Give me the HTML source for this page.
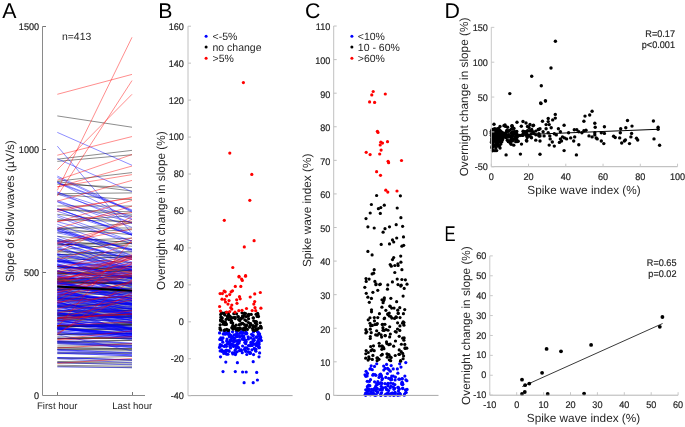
<!DOCTYPE html>
<html><head><meta charset="utf-8"><style>
html,body{margin:0;padding:0;background:#fff;width:685px;height:427px;overflow:hidden}
svg{display:block;font-family:"Liberation Sans", sans-serif;will-change:transform;text-rendering:geometricPrecision}
</style></head><body>
<svg width="685" height="427" viewBox="0 0 685 427">
<rect width="685" height="427" fill="#fff"/>
<g stroke-width="0.45" fill="none"><line x1="57.3" y1="245.29" x2="132" y2="240.72" stroke="#000000"/><line x1="57.3" y1="317.38" x2="132" y2="313.9" stroke="#000000"/><line x1="57.3" y1="349.16" x2="132" y2="349.56" stroke="#000000"/><line x1="57.3" y1="325.71" x2="132" y2="324.28" stroke="#000000"/><line x1="57.3" y1="319.25" x2="132" y2="316.4" stroke="#000000"/><line x1="57.3" y1="282.18" x2="132" y2="282.97" stroke="#000000"/><line x1="57.3" y1="305.84" x2="132" y2="303.25" stroke="#000000"/><line x1="57.3" y1="281.54" x2="132" y2="278.74" stroke="#000000"/><line x1="57.3" y1="250.78" x2="132" y2="256.79" stroke="#000000"/><line x1="57.3" y1="306.2" x2="132" y2="308.06" stroke="#000000"/><line x1="57.3" y1="341.78" x2="132" y2="340.14" stroke="#000000"/><line x1="57.3" y1="159.21" x2="132" y2="150.37" stroke="#000000"/><line x1="57.3" y1="320.4" x2="132" y2="316.94" stroke="#000000"/><line x1="57.3" y1="338.36" x2="132" y2="338.38" stroke="#000000"/><line x1="57.3" y1="310.21" x2="132" y2="311.46" stroke="#000000"/><line x1="57.3" y1="328.86" x2="132" y2="329.42" stroke="#000000"/><line x1="57.3" y1="352.4" x2="132" y2="352.17" stroke="#000000"/><line x1="57.3" y1="318.34" x2="132" y2="321.49" stroke="#000000"/><line x1="57.3" y1="209.55" x2="132" y2="214.28" stroke="#000000"/><line x1="57.3" y1="292.19" x2="132" y2="292.54" stroke="#000000"/><line x1="57.3" y1="241.2" x2="132" y2="238.12" stroke="#000000"/><line x1="57.3" y1="333.45" x2="132" y2="333.15" stroke="#000000"/><line x1="57.3" y1="205.99" x2="132" y2="206.06" stroke="#000000"/><line x1="57.3" y1="296.11" x2="132" y2="298.16" stroke="#000000"/><line x1="57.3" y1="313.74" x2="132" y2="314.26" stroke="#000000"/><line x1="57.3" y1="315.02" x2="132" y2="315.78" stroke="#000000"/><line x1="57.3" y1="236.31" x2="132" y2="242.88" stroke="#000000"/><line x1="57.3" y1="289.77" x2="132" y2="288.66" stroke="#000000"/><line x1="57.3" y1="334.57" x2="132" y2="333.24" stroke="#000000"/><line x1="57.3" y1="209.44" x2="132" y2="211.87" stroke="#000000"/><line x1="57.3" y1="343.68" x2="132" y2="345.01" stroke="#000000"/><line x1="57.3" y1="325.94" x2="132" y2="327.0" stroke="#000000"/><line x1="57.3" y1="315.4" x2="132" y2="313.5" stroke="#000000"/><line x1="57.3" y1="280.39" x2="132" y2="284.54" stroke="#000000"/><line x1="57.3" y1="327.59" x2="132" y2="324.39" stroke="#000000"/><line x1="57.3" y1="363.02" x2="132" y2="364.27" stroke="#000000"/><line x1="57.3" y1="161.37" x2="132" y2="154.74" stroke="#000000"/><line x1="57.3" y1="366.38" x2="132" y2="367.68" stroke="#000000"/><line x1="57.3" y1="325.82" x2="132" y2="327.51" stroke="#000000"/><line x1="57.3" y1="281.23" x2="132" y2="285.17" stroke="#000000"/><line x1="57.3" y1="194.56" x2="132" y2="199.68" stroke="#000000"/><line x1="57.3" y1="317.95" x2="132" y2="315.78" stroke="#000000"/><line x1="57.3" y1="314.31" x2="132" y2="310.28" stroke="#000000"/><line x1="57.3" y1="278.59" x2="132" y2="279.91" stroke="#000000"/><line x1="57.3" y1="349.61" x2="132" y2="350.34" stroke="#000000"/><line x1="57.3" y1="268.31" x2="132" y2="266.58" stroke="#000000"/><line x1="57.3" y1="316.08" x2="132" y2="314.72" stroke="#000000"/><line x1="57.3" y1="299.71" x2="132" y2="303.07" stroke="#000000"/><line x1="57.3" y1="307.05" x2="132" y2="310.9" stroke="#000000"/><line x1="57.3" y1="266.47" x2="132" y2="269.58" stroke="#000000"/><line x1="57.3" y1="336.79" x2="132" y2="338.87" stroke="#000000"/><line x1="57.3" y1="279.42" x2="132" y2="275.42" stroke="#000000"/><line x1="57.3" y1="297.81" x2="132" y2="301.33" stroke="#000000"/><line x1="57.3" y1="266.58" x2="132" y2="272.68" stroke="#000000"/><line x1="57.3" y1="243.61" x2="132" y2="249.36" stroke="#000000"/><line x1="57.3" y1="290.58" x2="132" y2="295.24" stroke="#000000"/><line x1="57.3" y1="318.06" x2="132" y2="314.29" stroke="#000000"/><line x1="57.3" y1="358.17" x2="132" y2="359.76" stroke="#000000"/><line x1="57.3" y1="273.33" x2="132" y2="273.82" stroke="#000000"/><line x1="57.3" y1="254.71" x2="132" y2="251.27" stroke="#000000"/><line x1="57.3" y1="272.85" x2="132" y2="270.74" stroke="#000000"/><line x1="57.3" y1="347.98" x2="132" y2="348.68" stroke="#000000"/><line x1="57.3" y1="227.98" x2="132" y2="228.01" stroke="#000000"/><line x1="57.3" y1="273.82" x2="132" y2="270.39" stroke="#000000"/><line x1="57.3" y1="282.97" x2="132" y2="283.54" stroke="#000000"/><line x1="57.3" y1="330.14" x2="132" y2="328.58" stroke="#000000"/><line x1="57.3" y1="294.89" x2="132" y2="290.6" stroke="#000000"/><line x1="57.3" y1="219.55" x2="132" y2="221.81" stroke="#000000"/><line x1="57.3" y1="329.3" x2="132" y2="331.96" stroke="#000000"/><line x1="57.3" y1="288.63" x2="132" y2="288.64" stroke="#000000"/><line x1="57.3" y1="181.69" x2="132" y2="191.06" stroke="#000000"/><line x1="57.3" y1="250.02" x2="132" y2="243.04" stroke="#000000"/><line x1="57.3" y1="272.88" x2="132" y2="276.96" stroke="#000000"/><line x1="57.3" y1="271.99" x2="132" y2="276.03" stroke="#000000"/><line x1="57.3" y1="280.7" x2="132" y2="282.82" stroke="#000000"/><line x1="57.3" y1="327.07" x2="132" y2="325.31" stroke="#000000"/><line x1="57.3" y1="345.99" x2="132" y2="345.72" stroke="#000000"/><line x1="57.3" y1="307.05" x2="132" y2="308.82" stroke="#000000"/><line x1="57.3" y1="325.77" x2="132" y2="322.99" stroke="#000000"/><line x1="57.3" y1="193.73" x2="132" y2="192.9" stroke="#000000"/><line x1="57.3" y1="298.01" x2="132" y2="297.03" stroke="#000000"/><line x1="57.3" y1="304.13" x2="132" y2="307.01" stroke="#000000"/><line x1="57.3" y1="256.84" x2="132" y2="257.56" stroke="#000000"/><line x1="57.3" y1="228.88" x2="132" y2="234.62" stroke="#000000"/><line x1="57.3" y1="181.28" x2="132" y2="172.6" stroke="#000000"/><line x1="57.3" y1="300.58" x2="132" y2="304.79" stroke="#000000"/><line x1="57.3" y1="306.27" x2="132" y2="303.55" stroke="#000000"/><line x1="57.3" y1="266.69" x2="132" y2="271.07" stroke="#000000"/><line x1="57.3" y1="278.69" x2="132" y2="277.41" stroke="#000000"/><line x1="57.3" y1="115.92" x2="132" y2="127.22" stroke="#000000"/><line x1="57.3" y1="312.38" x2="132" y2="310.02" stroke="#000000"/><line x1="57.3" y1="341.55" x2="132" y2="343.84" stroke="#000000"/><line x1="57.3" y1="322.23" x2="132" y2="322.47" stroke="#000000"/><line x1="57.3" y1="184.19" x2="132" y2="187.58" stroke="#000000"/><line x1="57.3" y1="302.41" x2="132" y2="306.18" stroke="#000000"/><line x1="57.3" y1="315.3" x2="132" y2="318.18" stroke="#000000"/><line x1="57.3" y1="326.69" x2="132" y2="325.59" stroke="#000000"/><line x1="57.3" y1="311.12" x2="132" y2="313.15" stroke="#000000"/><line x1="57.3" y1="365.28" x2="132" y2="366.29" stroke="#000000"/><line x1="57.3" y1="329.08" x2="132" y2="329.0" stroke="#000000"/><line x1="57.3" y1="279.55" x2="132" y2="281.2" stroke="#000000"/><line x1="57.3" y1="325.76" x2="132" y2="323.56" stroke="#000000"/><line x1="57.3" y1="261.29" x2="132" y2="267.32" stroke="#000000"/><line x1="57.3" y1="325.64" x2="132" y2="324.81" stroke="#000000"/><line x1="57.3" y1="314.04" x2="132" y2="317.05" stroke="#000000"/><line x1="57.3" y1="321.07" x2="132" y2="319.25" stroke="#000000"/><line x1="57.3" y1="361.51" x2="132" y2="360.78" stroke="#000000"/><line x1="57.3" y1="266.65" x2="132" y2="270.4" stroke="#000000"/><line x1="57.3" y1="274.23" x2="132" y2="276.54" stroke="#000000"/><line x1="57.3" y1="310.87" x2="132" y2="308.63" stroke="#000000"/><line x1="57.3" y1="353.71" x2="132" y2="353.48" stroke="#000000"/><line x1="57.3" y1="299.89" x2="132" y2="295.97" stroke="#000000"/><line x1="57.3" y1="347.47" x2="132" y2="348.73" stroke="#000000"/><line x1="57.3" y1="334.67" x2="132" y2="333.62" stroke="#000000"/><line x1="57.3" y1="214.25" x2="132" y2="222.69" stroke="#000000"/><line x1="57.3" y1="342.71" x2="132" y2="340.4" stroke="#000000"/><line x1="57.3" y1="338.74" x2="132" y2="336.48" stroke="#000000"/><line x1="57.3" y1="244.58" x2="132" y2="243.59" stroke="#000000"/><line x1="57.3" y1="232.86" x2="132" y2="229.75" stroke="#000000"/><line x1="57.3" y1="220.74" x2="132" y2="215.79" stroke="#000000"/><line x1="57.3" y1="289.56" x2="132" y2="291.04" stroke="#000000"/><line x1="57.3" y1="284.0" x2="132" y2="282.77" stroke="#000000"/><line x1="57.3" y1="282.18" x2="132" y2="283.48" stroke="#000000"/><line x1="57.3" y1="298.37" x2="132" y2="301.1" stroke="#000000"/><line x1="57.3" y1="229.26" x2="132" y2="223.17" stroke="#000000"/><line x1="57.3" y1="279.2" x2="132" y2="277.31" stroke="#000000"/><line x1="57.3" y1="285.88" x2="132" y2="290.6" stroke="#000000"/><line x1="57.3" y1="271.51" x2="132" y2="266.55" stroke="#000000"/><line x1="57.3" y1="287.83" x2="132" y2="292.26" stroke="#000000"/><line x1="57.3" y1="254.21" x2="132" y2="256.11" stroke="#000000"/><line x1="57.3" y1="338.8" x2="132" y2="337.84" stroke="#000000"/><line x1="57.3" y1="295.83" x2="132" y2="293.25" stroke="#000000"/><line x1="57.3" y1="251.94" x2="132" y2="252.96" stroke="#000000"/><line x1="57.3" y1="240.87" x2="132" y2="246.27" stroke="#000000"/><line x1="57.3" y1="287.24" x2="132" y2="287.32" stroke="#000000"/><line x1="57.3" y1="362.28" x2="132" y2="362.85" stroke="#000000"/><line x1="57.3" y1="257.78" x2="132" y2="262.67" stroke="#000000"/><line x1="57.3" y1="358.19" x2="132" y2="356.47" stroke="#000000"/><line x1="57.3" y1="261.29" x2="132" y2="256.0" stroke="#000000"/><line x1="57.3" y1="290.21" x2="132" y2="285.27" stroke="#000000"/><line x1="57.3" y1="274.69" x2="132" y2="283.42" stroke="#0000ff"/><line x1="57.3" y1="216.85" x2="132" y2="244.04" stroke="#0000ff"/><line x1="57.3" y1="276.06" x2="132" y2="290.2" stroke="#0000ff"/><line x1="57.3" y1="319.99" x2="132" y2="330.6" stroke="#0000ff"/><line x1="57.3" y1="332.57" x2="132" y2="337.27" stroke="#0000ff"/><line x1="57.3" y1="146.14" x2="132" y2="233.6" stroke="#0000ff"/><line x1="57.3" y1="300.78" x2="132" y2="312.65" stroke="#0000ff"/><line x1="57.3" y1="305.43" x2="132" y2="314.9" stroke="#0000ff"/><line x1="57.3" y1="258.5" x2="132" y2="279.65" stroke="#0000ff"/><line x1="57.3" y1="283.18" x2="132" y2="296.15" stroke="#0000ff"/><line x1="57.3" y1="290.52" x2="132" y2="303.46" stroke="#0000ff"/><line x1="57.3" y1="305.88" x2="132" y2="313.49" stroke="#0000ff"/><line x1="57.3" y1="308.73" x2="132" y2="313.33" stroke="#0000ff"/><line x1="57.3" y1="270.54" x2="132" y2="292.65" stroke="#0000ff"/><line x1="57.3" y1="328.81" x2="132" y2="333.89" stroke="#0000ff"/><line x1="57.3" y1="340.47" x2="132" y2="343.22" stroke="#0000ff"/><line x1="57.3" y1="242.34" x2="132" y2="264.83" stroke="#0000ff"/><line x1="57.3" y1="327.13" x2="132" y2="333.74" stroke="#0000ff"/><line x1="57.3" y1="316.19" x2="132" y2="323.58" stroke="#0000ff"/><line x1="57.3" y1="248.58" x2="132" y2="266.13" stroke="#0000ff"/><line x1="57.3" y1="328.72" x2="132" y2="333.52" stroke="#0000ff"/><line x1="57.3" y1="292.44" x2="132" y2="300.32" stroke="#0000ff"/><line x1="57.3" y1="271.13" x2="132" y2="283.98" stroke="#0000ff"/><line x1="57.3" y1="271.24" x2="132" y2="278.29" stroke="#0000ff"/><line x1="57.3" y1="265.15" x2="132" y2="274.88" stroke="#0000ff"/><line x1="57.3" y1="298.02" x2="132" y2="303.99" stroke="#0000ff"/><line x1="57.3" y1="313.17" x2="132" y2="322.62" stroke="#0000ff"/><line x1="57.3" y1="357.56" x2="132" y2="359.9" stroke="#0000ff"/><line x1="57.3" y1="334.61" x2="132" y2="350.89" stroke="#0000ff"/><line x1="57.3" y1="201.75" x2="132" y2="234.05" stroke="#0000ff"/><line x1="57.3" y1="310.54" x2="132" y2="316.1" stroke="#0000ff"/><line x1="57.3" y1="253.77" x2="132" y2="267.4" stroke="#0000ff"/><line x1="57.3" y1="304.25" x2="132" y2="313.51" stroke="#0000ff"/><line x1="57.3" y1="320.85" x2="132" y2="329.03" stroke="#0000ff"/><line x1="57.3" y1="261.85" x2="132" y2="269.65" stroke="#0000ff"/><line x1="57.3" y1="277.07" x2="132" y2="284.79" stroke="#0000ff"/><line x1="57.3" y1="327.9" x2="132" y2="336.36" stroke="#0000ff"/><line x1="57.3" y1="241.48" x2="132" y2="270.57" stroke="#0000ff"/><line x1="57.3" y1="273.73" x2="132" y2="291.4" stroke="#0000ff"/><line x1="57.3" y1="292.34" x2="132" y2="308.99" stroke="#0000ff"/><line x1="57.3" y1="295.65" x2="132" y2="304.86" stroke="#0000ff"/><line x1="57.3" y1="304.78" x2="132" y2="310.7" stroke="#0000ff"/><line x1="57.3" y1="271.81" x2="132" y2="278.5" stroke="#0000ff"/><line x1="57.3" y1="342.44" x2="132" y2="347.39" stroke="#0000ff"/><line x1="57.3" y1="312.34" x2="132" y2="330.37" stroke="#0000ff"/><line x1="57.3" y1="275.38" x2="132" y2="286.96" stroke="#0000ff"/><line x1="57.3" y1="294.87" x2="132" y2="310.17" stroke="#0000ff"/><line x1="57.3" y1="319.85" x2="132" y2="325.91" stroke="#0000ff"/><line x1="57.3" y1="286.94" x2="132" y2="294.26" stroke="#0000ff"/><line x1="57.3" y1="309.56" x2="132" y2="320.67" stroke="#0000ff"/><line x1="57.3" y1="310.22" x2="132" y2="318.3" stroke="#0000ff"/><line x1="57.3" y1="260.2" x2="132" y2="270.33" stroke="#0000ff"/><line x1="57.3" y1="200.31" x2="132" y2="227.3" stroke="#0000ff"/><line x1="57.3" y1="353.19" x2="132" y2="355.83" stroke="#0000ff"/><line x1="57.3" y1="280.82" x2="132" y2="298.22" stroke="#0000ff"/><line x1="57.3" y1="276.17" x2="132" y2="283.61" stroke="#0000ff"/><line x1="57.3" y1="302.71" x2="132" y2="315.56" stroke="#0000ff"/><line x1="57.3" y1="328.94" x2="132" y2="334.65" stroke="#0000ff"/><line x1="57.3" y1="293.71" x2="132" y2="301.09" stroke="#0000ff"/><line x1="57.3" y1="236.23" x2="132" y2="261.98" stroke="#0000ff"/><line x1="57.3" y1="311.48" x2="132" y2="321.73" stroke="#0000ff"/><line x1="57.3" y1="358.74" x2="132" y2="362.79" stroke="#0000ff"/><line x1="57.3" y1="201.62" x2="132" y2="222.69" stroke="#0000ff"/><line x1="57.3" y1="292.02" x2="132" y2="305.52" stroke="#0000ff"/><line x1="57.3" y1="324.56" x2="132" y2="332.0" stroke="#0000ff"/><line x1="57.3" y1="283.22" x2="132" y2="293.37" stroke="#0000ff"/><line x1="57.3" y1="327.91" x2="132" y2="338.66" stroke="#0000ff"/><line x1="57.3" y1="229.01" x2="132" y2="250.43" stroke="#0000ff"/><line x1="57.3" y1="254.56" x2="132" y2="269.29" stroke="#0000ff"/><line x1="57.3" y1="324.11" x2="132" y2="331.83" stroke="#0000ff"/><line x1="57.3" y1="300.75" x2="132" y2="330.44" stroke="#0000ff"/><line x1="57.3" y1="282.5" x2="132" y2="298.22" stroke="#0000ff"/><line x1="57.3" y1="263.86" x2="132" y2="278.52" stroke="#0000ff"/><line x1="57.3" y1="320.36" x2="132" y2="332.17" stroke="#0000ff"/><line x1="57.3" y1="238.59" x2="132" y2="259.46" stroke="#0000ff"/><line x1="57.3" y1="268.02" x2="132" y2="284.04" stroke="#0000ff"/><line x1="57.3" y1="282.12" x2="132" y2="296.38" stroke="#0000ff"/><line x1="57.3" y1="132.38" x2="132" y2="165.3" stroke="#0000ff"/><line x1="57.3" y1="303.39" x2="132" y2="313.39" stroke="#0000ff"/><line x1="57.3" y1="260.34" x2="132" y2="273.91" stroke="#0000ff"/><line x1="57.3" y1="306.81" x2="132" y2="315.26" stroke="#0000ff"/><line x1="57.3" y1="319.6" x2="132" y2="332.94" stroke="#0000ff"/><line x1="57.3" y1="311.97" x2="132" y2="329.9" stroke="#0000ff"/><line x1="57.3" y1="290.27" x2="132" y2="305.82" stroke="#0000ff"/><line x1="57.3" y1="265.79" x2="132" y2="287.37" stroke="#0000ff"/><line x1="57.3" y1="366.97" x2="132" y2="367.73" stroke="#0000ff"/><line x1="57.3" y1="255.62" x2="132" y2="266.98" stroke="#0000ff"/><line x1="57.3" y1="330.63" x2="132" y2="336.03" stroke="#0000ff"/><line x1="57.3" y1="238.67" x2="132" y2="263.67" stroke="#0000ff"/><line x1="57.3" y1="265.0" x2="132" y2="277.94" stroke="#0000ff"/><line x1="57.3" y1="264.0" x2="132" y2="282.47" stroke="#0000ff"/><line x1="57.3" y1="266.62" x2="132" y2="278.67" stroke="#0000ff"/><line x1="57.3" y1="328.16" x2="132" y2="336.24" stroke="#0000ff"/><line x1="57.3" y1="226.67" x2="132" y2="255.53" stroke="#0000ff"/><line x1="57.3" y1="296.91" x2="132" y2="309.37" stroke="#0000ff"/><line x1="57.3" y1="362.49" x2="132" y2="364.86" stroke="#0000ff"/><line x1="57.3" y1="307.46" x2="132" y2="321.06" stroke="#0000ff"/><line x1="57.3" y1="331.38" x2="132" y2="335.24" stroke="#0000ff"/><line x1="57.3" y1="324.09" x2="132" y2="329.45" stroke="#0000ff"/><line x1="57.3" y1="297.0" x2="132" y2="304.82" stroke="#0000ff"/><line x1="57.3" y1="264.79" x2="132" y2="300.17" stroke="#0000ff"/><line x1="57.3" y1="224.21" x2="132" y2="251.8" stroke="#0000ff"/><line x1="57.3" y1="289.5" x2="132" y2="306.96" stroke="#0000ff"/><line x1="57.3" y1="318.13" x2="132" y2="328.36" stroke="#0000ff"/><line x1="57.3" y1="283.22" x2="132" y2="292.28" stroke="#0000ff"/><line x1="57.3" y1="293.0" x2="132" y2="303.39" stroke="#0000ff"/><line x1="57.3" y1="313.12" x2="132" y2="322.49" stroke="#0000ff"/><line x1="57.3" y1="349.58" x2="132" y2="353.18" stroke="#0000ff"/><line x1="57.3" y1="314.57" x2="132" y2="322.71" stroke="#0000ff"/><line x1="57.3" y1="265.0" x2="132" y2="275.52" stroke="#0000ff"/><line x1="57.3" y1="284.6" x2="132" y2="290.25" stroke="#0000ff"/><line x1="57.3" y1="302.61" x2="132" y2="311.9" stroke="#0000ff"/><line x1="57.3" y1="221.73" x2="132" y2="241.13" stroke="#0000ff"/><line x1="57.3" y1="283.37" x2="132" y2="300.7" stroke="#0000ff"/><line x1="57.3" y1="270.37" x2="132" y2="286.52" stroke="#0000ff"/><line x1="57.3" y1="260.76" x2="132" y2="271.67" stroke="#0000ff"/><line x1="57.3" y1="281.03" x2="132" y2="300.6" stroke="#0000ff"/><line x1="57.3" y1="293.95" x2="132" y2="300.34" stroke="#0000ff"/><line x1="57.3" y1="277.19" x2="132" y2="290.59" stroke="#0000ff"/><line x1="57.3" y1="307.0" x2="132" y2="320.38" stroke="#0000ff"/><line x1="57.3" y1="286.62" x2="132" y2="295.99" stroke="#0000ff"/><line x1="57.3" y1="327.29" x2="132" y2="335.0" stroke="#0000ff"/><line x1="57.3" y1="261.39" x2="132" y2="268.6" stroke="#0000ff"/><line x1="57.3" y1="328.93" x2="132" y2="335.31" stroke="#0000ff"/><line x1="57.3" y1="294.0" x2="132" y2="302.33" stroke="#0000ff"/><line x1="57.3" y1="357.44" x2="132" y2="360.13" stroke="#0000ff"/><line x1="57.3" y1="284.57" x2="132" y2="299.28" stroke="#0000ff"/><line x1="57.3" y1="282.14" x2="132" y2="289.15" stroke="#0000ff"/><line x1="57.3" y1="298.68" x2="132" y2="309.02" stroke="#0000ff"/><line x1="57.3" y1="258.44" x2="132" y2="281.32" stroke="#0000ff"/><line x1="57.3" y1="182.89" x2="132" y2="210.61" stroke="#0000ff"/><line x1="57.3" y1="298.46" x2="132" y2="304.88" stroke="#0000ff"/><line x1="57.3" y1="240.8" x2="132" y2="256.86" stroke="#0000ff"/><line x1="57.3" y1="228.13" x2="132" y2="257.71" stroke="#0000ff"/><line x1="57.3" y1="299.44" x2="132" y2="311.28" stroke="#0000ff"/><line x1="57.3" y1="302.51" x2="132" y2="314.86" stroke="#0000ff"/><line x1="57.3" y1="334.22" x2="132" y2="338.33" stroke="#0000ff"/><line x1="57.3" y1="271.2" x2="132" y2="281.29" stroke="#0000ff"/><line x1="57.3" y1="215.13" x2="132" y2="241.04" stroke="#0000ff"/><line x1="57.3" y1="320.22" x2="132" y2="331.41" stroke="#0000ff"/><line x1="57.3" y1="177.43" x2="132" y2="212.14" stroke="#0000ff"/><line x1="57.3" y1="316.85" x2="132" y2="322.86" stroke="#0000ff"/><line x1="57.3" y1="158.72" x2="132" y2="191.78" stroke="#0000ff"/><line x1="57.3" y1="232.69" x2="132" y2="249.63" stroke="#0000ff"/><line x1="57.3" y1="296.59" x2="132" y2="313.34" stroke="#0000ff"/><line x1="57.3" y1="350.24" x2="132" y2="354.82" stroke="#0000ff"/><line x1="57.3" y1="314.08" x2="132" y2="318.36" stroke="#0000ff"/><line x1="57.3" y1="240.33" x2="132" y2="259.52" stroke="#0000ff"/><line x1="57.3" y1="297.75" x2="132" y2="307.47" stroke="#0000ff"/><line x1="57.3" y1="351.89" x2="132" y2="354.77" stroke="#0000ff"/><line x1="57.3" y1="258.74" x2="132" y2="266.94" stroke="#0000ff"/><line x1="57.3" y1="285.7" x2="132" y2="315.16" stroke="#0000ff"/><line x1="57.3" y1="192.0" x2="132" y2="223.35" stroke="#0000ff"/><line x1="57.3" y1="240.86" x2="132" y2="258.77" stroke="#0000ff"/><line x1="57.3" y1="304.97" x2="132" y2="334.65" stroke="#0000ff"/><line x1="57.3" y1="305.34" x2="132" y2="320.45" stroke="#0000ff"/><line x1="57.3" y1="315.04" x2="132" y2="328.52" stroke="#0000ff"/><line x1="57.3" y1="230.37" x2="132" y2="255.97" stroke="#0000ff"/><line x1="57.3" y1="209.16" x2="132" y2="233.96" stroke="#0000ff"/><line x1="57.3" y1="342.84" x2="132" y2="346.83" stroke="#0000ff"/><line x1="57.3" y1="326.41" x2="132" y2="334.77" stroke="#0000ff"/><line x1="57.3" y1="277.09" x2="132" y2="295.0" stroke="#0000ff"/><line x1="57.3" y1="287.76" x2="132" y2="316.9" stroke="#0000ff"/><line x1="57.3" y1="312.98" x2="132" y2="317.51" stroke="#0000ff"/><line x1="57.3" y1="260.64" x2="132" y2="277.89" stroke="#0000ff"/><line x1="57.3" y1="247.44" x2="132" y2="270.35" stroke="#0000ff"/><line x1="57.3" y1="313.01" x2="132" y2="319.92" stroke="#0000ff"/><line x1="57.3" y1="211.29" x2="132" y2="235.09" stroke="#0000ff"/><line x1="57.3" y1="193.86" x2="132" y2="219.65" stroke="#0000ff"/><line x1="57.3" y1="323.43" x2="132" y2="330.84" stroke="#0000ff"/><line x1="57.3" y1="254.82" x2="132" y2="293.22" stroke="#0000ff"/><line x1="57.3" y1="349.72" x2="132" y2="352.66" stroke="#0000ff"/><line x1="57.3" y1="343.74" x2="132" y2="347.34" stroke="#0000ff"/><line x1="57.3" y1="293.94" x2="132" y2="308.14" stroke="#0000ff"/><line x1="57.3" y1="341.46" x2="132" y2="346.12" stroke="#0000ff"/><line x1="57.3" y1="242.84" x2="132" y2="263.14" stroke="#0000ff"/><line x1="57.3" y1="323.25" x2="132" y2="328.72" stroke="#0000ff"/><line x1="57.3" y1="278.56" x2="132" y2="304.33" stroke="#0000ff"/><line x1="57.3" y1="332.67" x2="132" y2="336.7" stroke="#0000ff"/><line x1="57.3" y1="259.74" x2="132" y2="268.73" stroke="#0000ff"/><line x1="57.3" y1="303.45" x2="132" y2="312.85" stroke="#0000ff"/><line x1="57.3" y1="253.88" x2="132" y2="265.32" stroke="#0000ff"/><line x1="57.3" y1="208.63" x2="132" y2="234.99" stroke="#0000ff"/><line x1="57.3" y1="246.28" x2="132" y2="272.22" stroke="#0000ff"/><line x1="57.3" y1="276.09" x2="132" y2="291.61" stroke="#0000ff"/><line x1="57.3" y1="296.58" x2="132" y2="303.82" stroke="#0000ff"/><line x1="57.3" y1="323.12" x2="132" y2="327.48" stroke="#0000ff"/><line x1="57.3" y1="289.36" x2="132" y2="298.4" stroke="#0000ff"/><line x1="57.3" y1="317.99" x2="132" y2="327.2" stroke="#0000ff"/><line x1="57.3" y1="267.02" x2="132" y2="273.64" stroke="#0000ff"/><line x1="57.3" y1="192.21" x2="132" y2="216.7" stroke="#0000ff"/><line x1="57.3" y1="230.13" x2="132" y2="249.9" stroke="#0000ff"/><line x1="57.3" y1="262.07" x2="132" y2="277.01" stroke="#0000ff"/><line x1="57.3" y1="300.81" x2="132" y2="309.0" stroke="#0000ff"/><line x1="57.3" y1="297.9" x2="132" y2="329.91" stroke="#0000ff"/><line x1="57.3" y1="313.81" x2="132" y2="318.28" stroke="#0000ff"/><line x1="57.3" y1="318.79" x2="132" y2="328.6" stroke="#0000ff"/><line x1="57.3" y1="208.55" x2="132" y2="235.29" stroke="#0000ff"/><line x1="57.3" y1="310.12" x2="132" y2="317.55" stroke="#0000ff"/><line x1="57.3" y1="328.48" x2="132" y2="336.38" stroke="#0000ff"/><line x1="57.3" y1="288.5" x2="132" y2="298.43" stroke="#0000ff"/><line x1="57.3" y1="182.3" x2="132" y2="219.0" stroke="#0000ff"/><line x1="57.3" y1="327.68" x2="132" y2="333.79" stroke="#0000ff"/><line x1="57.3" y1="290.39" x2="132" y2="303.02" stroke="#0000ff"/><line x1="57.3" y1="321.7" x2="132" y2="328.34" stroke="#0000ff"/><line x1="57.3" y1="248.68" x2="132" y2="276.4" stroke="#0000ff"/><line x1="57.3" y1="353.09" x2="132" y2="355.79" stroke="#0000ff"/><line x1="57.3" y1="182.11" x2="132" y2="209.88" stroke="#0000ff"/><line x1="57.3" y1="231.13" x2="132" y2="248.79" stroke="#0000ff"/><line x1="57.3" y1="331.82" x2="132" y2="339.85" stroke="#0000ff"/><line x1="57.3" y1="341.67" x2="132" y2="345.48" stroke="#0000ff"/><line x1="57.3" y1="291.59" x2="132" y2="304.78" stroke="#0000ff"/><line x1="57.3" y1="281.38" x2="132" y2="298.69" stroke="#0000ff"/><line x1="57.3" y1="302.33" x2="132" y2="318.42" stroke="#0000ff"/><line x1="57.3" y1="243.89" x2="132" y2="267.7" stroke="#0000ff"/><line x1="57.3" y1="337.78" x2="132" y2="343.36" stroke="#0000ff"/><line x1="57.3" y1="283.57" x2="132" y2="290.41" stroke="#0000ff"/><line x1="57.3" y1="176.06" x2="132" y2="211.25" stroke="#0000ff"/><line x1="57.3" y1="299.77" x2="132" y2="309.33" stroke="#0000ff"/><line x1="57.3" y1="286.66" x2="132" y2="300.11" stroke="#0000ff"/><line x1="57.3" y1="228.65" x2="132" y2="206.06" stroke="#ff0000"/><line x1="57.3" y1="186.8" x2="132" y2="174.63" stroke="#ff0000"/><line x1="57.3" y1="282.4" x2="132" y2="254.61" stroke="#ff0000"/><line x1="57.3" y1="266.5" x2="132" y2="257.04" stroke="#ff0000"/><line x1="57.3" y1="291.77" x2="132" y2="274.61" stroke="#ff0000"/><line x1="57.3" y1="169.72" x2="132" y2="94.3" stroke="#ff0000"/><line x1="57.3" y1="243.48" x2="132" y2="228.96" stroke="#ff0000"/><line x1="57.3" y1="289.65" x2="132" y2="273.56" stroke="#ff0000"/><line x1="57.3" y1="279.89" x2="132" y2="262.51" stroke="#ff0000"/><line x1="57.3" y1="318.42" x2="132" y2="299.6" stroke="#ff0000"/><line x1="57.3" y1="209.54" x2="132" y2="198.0" stroke="#ff0000"/><line x1="57.3" y1="303.23" x2="132" y2="280.97" stroke="#ff0000"/><line x1="57.3" y1="298.21" x2="132" y2="255.72" stroke="#ff0000"/><line x1="57.3" y1="155.23" x2="132" y2="136.56" stroke="#ff0000"/><line x1="57.3" y1="201.18" x2="132" y2="180.41" stroke="#ff0000"/><line x1="57.3" y1="221.48" x2="132" y2="212.46" stroke="#ff0000"/><line x1="57.3" y1="302.07" x2="132" y2="295.38" stroke="#ff0000"/><line x1="57.3" y1="317.84" x2="132" y2="313.83" stroke="#ff0000"/><line x1="57.3" y1="278.01" x2="132" y2="270.98" stroke="#ff0000"/><line x1="57.3" y1="301.42" x2="132" y2="263.48" stroke="#ff0000"/><line x1="57.3" y1="308.74" x2="132" y2="289.42" stroke="#ff0000"/><line x1="57.3" y1="252.35" x2="132" y2="216.75" stroke="#ff0000"/><line x1="57.3" y1="271.99" x2="132" y2="257.88" stroke="#ff0000"/><line x1="57.3" y1="190.36" x2="132" y2="37.31" stroke="#ff0000"/><line x1="57.3" y1="340.05" x2="132" y2="336.69" stroke="#ff0000"/><line x1="57.3" y1="271.02" x2="132" y2="242.3" stroke="#ff0000"/><line x1="57.3" y1="180.16" x2="132" y2="154.58" stroke="#ff0000"/><line x1="57.3" y1="325.63" x2="132" y2="321.8" stroke="#ff0000"/><line x1="57.3" y1="281.4" x2="132" y2="271.99" stroke="#ff0000"/><line x1="57.3" y1="285.53" x2="132" y2="273.56" stroke="#ff0000"/><line x1="57.3" y1="278.1" x2="132" y2="267.54" stroke="#ff0000"/><line x1="57.3" y1="363.37" x2="132" y2="358.36" stroke="#ff0000"/><line x1="57.3" y1="334.83" x2="132" y2="279.9" stroke="#ff0000"/><line x1="57.3" y1="221.69" x2="132" y2="200.48" stroke="#ff0000"/><line x1="57.3" y1="273.94" x2="132" y2="258.87" stroke="#ff0000"/><line x1="57.3" y1="186.88" x2="132" y2="166.04" stroke="#ff0000"/><line x1="57.3" y1="196.01" x2="132" y2="80.55" stroke="#ff0000"/><line x1="57.3" y1="211.24" x2="132" y2="197.22" stroke="#ff0000"/><line x1="57.3" y1="313.16" x2="132" y2="297.48" stroke="#ff0000"/><line x1="57.3" y1="276.62" x2="132" y2="259.19" stroke="#ff0000"/><line x1="57.3" y1="283.49" x2="132" y2="264.78" stroke="#ff0000"/><line x1="57.3" y1="247.8" x2="132" y2="219.6" stroke="#ff0000"/><line x1="57.3" y1="348.09" x2="132" y2="343.59" stroke="#ff0000"/><line x1="57.3" y1="94.3" x2="132" y2="74.4" stroke="#ff0000"/><line x1="57.3" y1="339.37" x2="132" y2="330.88" stroke="#ff0000"/><line x1="57.3" y1="292.66" x2="132" y2="276.04" stroke="#ff0000"/><line x1="57.3" y1="320.97" x2="132" y2="310.63" stroke="#ff0000"/><line x1="57.3" y1="318.7" x2="132" y2="314.12" stroke="#ff0000"/><line x1="57.3" y1="327.33" x2="132" y2="239.73" stroke="#ff0000"/><line x1="57.3" y1="242.61" x2="132" y2="222.15" stroke="#ff0000"/><line x1="57.3" y1="333.22" x2="132" y2="292.6" stroke="#ff0000"/><line x1="57.3" y1="259.83" x2="132" y2="237.88" stroke="#ff0000"/><line x1="57.3" y1="295.03" x2="132" y2="282.96" stroke="#ff0000"/></g>
<line x1="57.3" y1="286.6" x2="132" y2="290.8" stroke="#000" stroke-width="2"/>
<g stroke="#8a8a8a" stroke-width="1" fill="none">
<path d="M42.5 26.5 V395.5 H145"/>
<path d="M42.5 26.5 H46 M42.5 149.5 H46 M42.5 272.5 H46 M57.5 395 V392 M132.5 395 V392" stroke="#777"/>
</g>
<text transform="translate(39.10,30.24) scale(0.950,1)" font-size="9.6" text-anchor="end" fill="#262626" stroke="#262626" stroke-width="0.2">1500</text>
<text transform="translate(39.10,153.24) scale(0.950,1)" font-size="9.6" text-anchor="end" fill="#262626" stroke="#262626" stroke-width="0.2">1000</text>
<text transform="translate(39.10,276.24) scale(0.950,1)" font-size="9.6" text-anchor="end" fill="#262626" stroke="#262626" stroke-width="0.2">500</text>
<text transform="translate(39.10,399.24) scale(0.950,1)" font-size="9.6" text-anchor="end" fill="#262626" stroke="#262626" stroke-width="0.2">0</text>
<text transform="translate(57.20,409.00)" font-size="9.6" text-anchor="middle" fill="#262626">First hour</text>
<text transform="translate(132.20,409.00)" font-size="9.6" text-anchor="middle" fill="#262626">Last hour</text>
<text transform="translate(62.00,39.70)" font-size="10.4" text-anchor="start" fill="#262626">n=413</text>
<text transform="translate(14.20,211.20) rotate(-90)" font-size="11.8" text-anchor="middle" fill="#262626">Slope of slow waves (µV/s)</text>
<text transform="translate(2.30,18.20)" font-size="21.3" text-anchor="start" fill="#000">A</text>
<g fill="#0000ff"><circle cx="220.5" cy="356.8" r="1.6"/><circle cx="225.8" cy="362.1" r="1.6"/><circle cx="237.4" cy="362.7" r="1.6"/><circle cx="253.2" cy="361.7" r="1.6"/><circle cx="223" cy="371.6" r="1.6"/><circle cx="235.3" cy="371.6" r="1.6"/><circle cx="242.6" cy="372" r="1.6"/><circle cx="246.2" cy="372" r="1.6"/><circle cx="256.7" cy="372.4" r="1.6"/><circle cx="244.1" cy="382.7" r="1.6"/><circle cx="253.2" cy="382.7" r="1.6"/><circle cx="257.4" cy="380" r="1.6"/><circle cx="259" cy="356.8" r="1.6"/><circle cx="226.57" cy="354.02" r="1.6"/><circle cx="235.93" cy="345.3" r="1.6"/><circle cx="258.82" cy="346.46" r="1.6"/><circle cx="236.28" cy="335.71" r="1.6"/><circle cx="239.09" cy="342.93" r="1.6"/><circle cx="226.34" cy="353.87" r="1.6"/><circle cx="236.97" cy="340.62" r="1.6"/><circle cx="229.0" cy="342.82" r="1.6"/><circle cx="256.78" cy="337.3" r="1.6"/><circle cx="235.66" cy="353.68" r="1.6"/><circle cx="245.72" cy="350.49" r="1.6"/><circle cx="250.83" cy="337.85" r="1.6"/><circle cx="220.16" cy="345.94" r="1.6"/><circle cx="241.06" cy="349.94" r="1.6"/><circle cx="229.94" cy="345.1" r="1.6"/><circle cx="254.28" cy="348.29" r="1.6"/><circle cx="253.55" cy="354.61" r="1.6"/><circle cx="235.43" cy="354.56" r="1.6"/><circle cx="257.7" cy="345.91" r="1.6"/><circle cx="231.93" cy="336.77" r="1.6"/><circle cx="227.02" cy="339.12" r="1.6"/><circle cx="252.25" cy="345.49" r="1.6"/><circle cx="243.71" cy="335.76" r="1.6"/><circle cx="239.78" cy="333.37" r="1.6"/><circle cx="235.14" cy="341.17" r="1.6"/><circle cx="238.45" cy="341.93" r="1.6"/><circle cx="245.42" cy="340.7" r="1.6"/><circle cx="259.89" cy="335.64" r="1.6"/><circle cx="245.04" cy="347.84" r="1.6"/><circle cx="256.91" cy="342.82" r="1.6"/><circle cx="259.56" cy="333.74" r="1.6"/><circle cx="251.94" cy="349.85" r="1.6"/><circle cx="246.15" cy="332.25" r="1.6"/><circle cx="257.53" cy="331.76" r="1.6"/><circle cx="260.01" cy="336.77" r="1.6"/><circle cx="224.35" cy="346.44" r="1.6"/><circle cx="245.79" cy="340.42" r="1.6"/><circle cx="241.98" cy="333.17" r="1.6"/><circle cx="233.48" cy="346.4" r="1.6"/><circle cx="221.9" cy="345.74" r="1.6"/><circle cx="228.66" cy="331.66" r="1.6"/><circle cx="252.98" cy="339.63" r="1.6"/><circle cx="260.7" cy="337.39" r="1.6"/><circle cx="233.44" cy="338.57" r="1.6"/><circle cx="244.43" cy="349.43" r="1.6"/><circle cx="258.21" cy="334.07" r="1.6"/><circle cx="225.39" cy="345.1" r="1.6"/><circle cx="245.72" cy="341.32" r="1.6"/><circle cx="223.2" cy="333.93" r="1.6"/><circle cx="232.51" cy="331.82" r="1.6"/><circle cx="245.51" cy="333.36" r="1.6"/><circle cx="234.16" cy="340.36" r="1.6"/><circle cx="234.12" cy="334.76" r="1.6"/><circle cx="227.08" cy="333.01" r="1.6"/><circle cx="257.9" cy="341.98" r="1.6"/><circle cx="236.13" cy="345.82" r="1.6"/><circle cx="230.6" cy="335.39" r="1.6"/><circle cx="259.03" cy="342.44" r="1.6"/><circle cx="222.1" cy="351.41" r="1.6"/><circle cx="219.79" cy="339.4" r="1.6"/><circle cx="232.38" cy="352.75" r="1.6"/><circle cx="244.99" cy="339.79" r="1.6"/><circle cx="228.76" cy="350.48" r="1.6"/><circle cx="239.64" cy="340.78" r="1.6"/><circle cx="230.55" cy="347.93" r="1.6"/><circle cx="228.04" cy="334.17" r="1.6"/><circle cx="248.16" cy="336.86" r="1.6"/><circle cx="241.2" cy="350.33" r="1.6"/><circle cx="243.24" cy="337.79" r="1.6"/><circle cx="244.8" cy="342.48" r="1.6"/><circle cx="255.35" cy="349.9" r="1.6"/><circle cx="226.9" cy="333.45" r="1.6"/><circle cx="230.44" cy="340.96" r="1.6"/><circle cx="242.19" cy="335.91" r="1.6"/><circle cx="224.23" cy="351.03" r="1.6"/><circle cx="256.2" cy="345.59" r="1.6"/><circle cx="259.62" cy="352.94" r="1.6"/><circle cx="255.87" cy="351.27" r="1.6"/><circle cx="246.09" cy="341.9" r="1.6"/><circle cx="220.89" cy="337.76" r="1.6"/><circle cx="236.08" cy="348.41" r="1.6"/><circle cx="253.44" cy="332.02" r="1.6"/><circle cx="237.78" cy="343.95" r="1.6"/><circle cx="228.8" cy="343.14" r="1.6"/><circle cx="242.12" cy="333.0" r="1.6"/><circle cx="250.03" cy="353.47" r="1.6"/><circle cx="242.05" cy="339.18" r="1.6"/><circle cx="250.86" cy="342.46" r="1.6"/><circle cx="224.49" cy="333.96" r="1.6"/><circle cx="243.87" cy="339.65" r="1.6"/><circle cx="222.83" cy="342.2" r="1.6"/><circle cx="235.88" cy="335.69" r="1.6"/><circle cx="231.56" cy="344.31" r="1.6"/><circle cx="254.13" cy="338.57" r="1.6"/><circle cx="221.65" cy="349.96" r="1.6"/><circle cx="257.72" cy="344.75" r="1.6"/><circle cx="245.86" cy="333.15" r="1.6"/><circle cx="239.62" cy="337.04" r="1.6"/><circle cx="224.75" cy="351.64" r="1.6"/><circle cx="229.13" cy="351.34" r="1.6"/><circle cx="229.16" cy="333.9" r="1.6"/><circle cx="232.88" cy="353.95" r="1.6"/><circle cx="230.78" cy="339.5" r="1.6"/><circle cx="236.9" cy="333.28" r="1.6"/><circle cx="241.21" cy="331.58" r="1.6"/><circle cx="259.02" cy="344.13" r="1.6"/><circle cx="236.04" cy="334.99" r="1.6"/><circle cx="253.05" cy="335.99" r="1.6"/><circle cx="236.59" cy="336.55" r="1.6"/><circle cx="246.71" cy="347.93" r="1.6"/><circle cx="232.37" cy="336.86" r="1.6"/><circle cx="259.06" cy="335.16" r="1.6"/><circle cx="255.88" cy="349.23" r="1.6"/><circle cx="237.48" cy="343.26" r="1.6"/><circle cx="232.98" cy="341.03" r="1.6"/><circle cx="261.43" cy="340.49" r="1.6"/><circle cx="229.97" cy="346.45" r="1.6"/><circle cx="257.4" cy="344.67" r="1.6"/><circle cx="221.38" cy="339.69" r="1.6"/><circle cx="226.64" cy="341.08" r="1.6"/><circle cx="243.97" cy="337.56" r="1.6"/><circle cx="242.32" cy="332.63" r="1.6"/><circle cx="246.81" cy="354.48" r="1.6"/><circle cx="250.3" cy="353.25" r="1.6"/><circle cx="236.72" cy="336.69" r="1.6"/><circle cx="253.63" cy="340.18" r="1.6"/><circle cx="223.0" cy="337.89" r="1.6"/><circle cx="237.05" cy="334.3" r="1.6"/><circle cx="237.13" cy="351.77" r="1.6"/><circle cx="242.58" cy="346.02" r="1.6"/><circle cx="250.01" cy="345.64" r="1.6"/><circle cx="227.79" cy="343.22" r="1.6"/><circle cx="238.74" cy="340.27" r="1.6"/><circle cx="231.46" cy="344.46" r="1.6"/><circle cx="233.37" cy="344.69" r="1.6"/><circle cx="234.51" cy="338.54" r="1.6"/><circle cx="251.06" cy="345.37" r="1.6"/><circle cx="220.14" cy="350.91" r="1.6"/><circle cx="254.51" cy="344.1" r="1.6"/><circle cx="254.15" cy="340.37" r="1.6"/><circle cx="236.49" cy="331.37" r="1.6"/><circle cx="230.29" cy="341.31" r="1.6"/><circle cx="246.21" cy="333.78" r="1.6"/><circle cx="226.75" cy="350.49" r="1.6"/><circle cx="235.68" cy="345.9" r="1.6"/><circle cx="225.07" cy="331.14" r="1.6"/><circle cx="240.93" cy="350.0" r="1.6"/><circle cx="229.43" cy="336.45" r="1.6"/><circle cx="252.88" cy="343.91" r="1.6"/><circle cx="243.03" cy="331.99" r="1.6"/><circle cx="236.59" cy="335.02" r="1.6"/><circle cx="219.55" cy="332.92" r="1.6"/><circle cx="221.93" cy="339.82" r="1.6"/><circle cx="227.92" cy="354.27" r="1.6"/><circle cx="219.52" cy="347.42" r="1.6"/><circle cx="246.83" cy="333.47" r="1.6"/><circle cx="228.65" cy="342.57" r="1.6"/><circle cx="226.34" cy="350.03" r="1.6"/><circle cx="237.01" cy="333.74" r="1.6"/><circle cx="220.21" cy="344.72" r="1.6"/><circle cx="257.99" cy="340.66" r="1.6"/><circle cx="259.03" cy="336.02" r="1.6"/><circle cx="251.59" cy="334.31" r="1.6"/><circle cx="248.35" cy="351.76" r="1.6"/><circle cx="256.47" cy="344.11" r="1.6"/><circle cx="237.06" cy="335.26" r="1.6"/><circle cx="253.22" cy="335.29" r="1.6"/><circle cx="221.95" cy="345.73" r="1.6"/><circle cx="245.64" cy="343.77" r="1.6"/><circle cx="260.36" cy="339.14" r="1.6"/><circle cx="258.28" cy="332.31" r="1.6"/><circle cx="220.75" cy="345.14" r="1.6"/><circle cx="245.75" cy="351.5" r="1.6"/><circle cx="256.45" cy="336.82" r="1.6"/><circle cx="231.82" cy="345.26" r="1.6"/><circle cx="233.71" cy="341.71" r="1.6"/><circle cx="223.82" cy="353.52" r="1.6"/><circle cx="229.77" cy="340.93" r="1.6"/><circle cx="242.29" cy="335.98" r="1.6"/><circle cx="248.38" cy="338.92" r="1.6"/><circle cx="248.46" cy="345.52" r="1.6"/><circle cx="239.45" cy="350.53" r="1.6"/><circle cx="238.19" cy="347.77" r="1.6"/><circle cx="234.16" cy="352.94" r="1.6"/><circle cx="251.16" cy="343.76" r="1.6"/><circle cx="252.74" cy="341.63" r="1.6"/><circle cx="239.5" cy="335.88" r="1.6"/><circle cx="258.8" cy="339.04" r="1.6"/><circle cx="231.63" cy="337.61" r="1.6"/><circle cx="233.88" cy="337.97" r="1.6"/><circle cx="242.26" cy="352.68" r="1.6"/><circle cx="259.29" cy="347.65" r="1.6"/><circle cx="250.05" cy="352.37" r="1.6"/><circle cx="235.08" cy="350.42" r="1.6"/><circle cx="254.52" cy="348.72" r="1.6"/><circle cx="227.48" cy="343.96" r="1.6"/><circle cx="226.46" cy="346.37" r="1.6"/><circle cx="237.27" cy="346.46" r="1.6"/><circle cx="230.3" cy="335.21" r="1.6"/><circle cx="225.51" cy="334.08" r="1.6"/><circle cx="229.56" cy="336.76" r="1.6"/><circle cx="236.63" cy="345.08" r="1.6"/><circle cx="238.61" cy="347.54" r="1.6"/><circle cx="225.66" cy="352.65" r="1.6"/><circle cx="248.29" cy="349.02" r="1.6"/><circle cx="224.23" cy="331.25" r="1.6"/><circle cx="258.82" cy="347.61" r="1.6"/></g><g fill="#000000"><circle cx="240.47" cy="328.66" r="1.6"/><circle cx="220.7" cy="319.92" r="1.6"/><circle cx="258.48" cy="328.3" r="1.6"/><circle cx="224.95" cy="329.74" r="1.6"/><circle cx="245.62" cy="313.52" r="1.6"/><circle cx="240.98" cy="324.22" r="1.6"/><circle cx="231.06" cy="318.79" r="1.6"/><circle cx="252.6" cy="328.49" r="1.6"/><circle cx="241.02" cy="318.65" r="1.6"/><circle cx="242.56" cy="315.95" r="1.6"/><circle cx="228.09" cy="312.92" r="1.6"/><circle cx="239.81" cy="320.81" r="1.6"/><circle cx="244.35" cy="324.51" r="1.6"/><circle cx="253.19" cy="326.69" r="1.6"/><circle cx="224.91" cy="315.01" r="1.6"/><circle cx="231.14" cy="322.41" r="1.6"/><circle cx="257.13" cy="329.5" r="1.6"/><circle cx="225.7" cy="323.09" r="1.6"/><circle cx="227.99" cy="318.6" r="1.6"/><circle cx="228.62" cy="314.38" r="1.6"/><circle cx="227.93" cy="330.43" r="1.6"/><circle cx="239.19" cy="324.65" r="1.6"/><circle cx="248.79" cy="314.3" r="1.6"/><circle cx="220.21" cy="324.77" r="1.6"/><circle cx="261.35" cy="328.08" r="1.6"/><circle cx="248.52" cy="322.54" r="1.6"/><circle cx="220.93" cy="330.03" r="1.6"/><circle cx="244.19" cy="315.41" r="1.6"/><circle cx="232.83" cy="325.33" r="1.6"/><circle cx="226.75" cy="329.39" r="1.6"/><circle cx="254.74" cy="330.58" r="1.6"/><circle cx="224.84" cy="322.42" r="1.6"/><circle cx="227.72" cy="317.38" r="1.6"/><circle cx="244.63" cy="329.89" r="1.6"/><circle cx="220.63" cy="314.49" r="1.6"/><circle cx="227.49" cy="316.16" r="1.6"/><circle cx="220.25" cy="329.32" r="1.6"/><circle cx="250.04" cy="325.62" r="1.6"/><circle cx="255.32" cy="321.93" r="1.6"/><circle cx="232.74" cy="327.02" r="1.6"/><circle cx="260.59" cy="326.27" r="1.6"/><circle cx="233.81" cy="313.65" r="1.6"/><circle cx="232.7" cy="322.98" r="1.6"/><circle cx="221.18" cy="317.25" r="1.6"/><circle cx="236.47" cy="329.79" r="1.6"/><circle cx="255.0" cy="326.51" r="1.6"/><circle cx="242.42" cy="317.33" r="1.6"/><circle cx="248.58" cy="318.82" r="1.6"/><circle cx="258.46" cy="316.61" r="1.6"/><circle cx="245.8" cy="328.27" r="1.6"/><circle cx="238.11" cy="328.38" r="1.6"/><circle cx="257.08" cy="316.51" r="1.6"/><circle cx="220.99" cy="317.01" r="1.6"/><circle cx="226.35" cy="324.4" r="1.6"/><circle cx="225.55" cy="312.58" r="1.6"/><circle cx="234.5" cy="326.52" r="1.6"/><circle cx="256.06" cy="329.91" r="1.6"/><circle cx="226.21" cy="319.28" r="1.6"/><circle cx="222.8" cy="321.83" r="1.6"/><circle cx="229.23" cy="319.75" r="1.6"/><circle cx="224.34" cy="330.32" r="1.6"/><circle cx="246.25" cy="320.78" r="1.6"/><circle cx="246.53" cy="325.04" r="1.6"/><circle cx="224.99" cy="324.53" r="1.6"/><circle cx="236.1" cy="325.21" r="1.6"/><circle cx="224.36" cy="314.18" r="1.6"/><circle cx="243.08" cy="329.45" r="1.6"/><circle cx="257.6" cy="313.24" r="1.6"/><circle cx="222.3" cy="318.1" r="1.6"/><circle cx="248.2" cy="316.14" r="1.6"/><circle cx="239.03" cy="328.38" r="1.6"/><circle cx="253.18" cy="330.13" r="1.6"/><circle cx="253.29" cy="317.76" r="1.6"/><circle cx="230.72" cy="316.99" r="1.6"/><circle cx="229.97" cy="316.45" r="1.6"/><circle cx="235.9" cy="328.49" r="1.6"/><circle cx="231.5" cy="321.84" r="1.6"/><circle cx="244.81" cy="319.85" r="1.6"/><circle cx="245.65" cy="326.61" r="1.6"/><circle cx="250.36" cy="324.44" r="1.6"/><circle cx="253.05" cy="325.67" r="1.6"/><circle cx="242.74" cy="323.37" r="1.6"/><circle cx="241.27" cy="318.6" r="1.6"/><circle cx="260.63" cy="326.28" r="1.6"/><circle cx="233.15" cy="329.26" r="1.6"/><circle cx="220.71" cy="320.89" r="1.6"/><circle cx="253.07" cy="328.18" r="1.6"/><circle cx="246.25" cy="316.56" r="1.6"/><circle cx="251.23" cy="314.38" r="1.6"/><circle cx="246.58" cy="325.52" r="1.6"/><circle cx="250.99" cy="324.75" r="1.6"/><circle cx="225.94" cy="323.93" r="1.6"/><circle cx="248.5" cy="314.84" r="1.6"/><circle cx="243.0" cy="317.28" r="1.6"/><circle cx="238.31" cy="316.57" r="1.6"/><circle cx="222.13" cy="320.58" r="1.6"/><circle cx="253.71" cy="320.78" r="1.6"/><circle cx="253.23" cy="318.0" r="1.6"/><circle cx="256.52" cy="321.87" r="1.6"/><circle cx="256.28" cy="329.04" r="1.6"/><circle cx="223.32" cy="324.18" r="1.6"/><circle cx="238.61" cy="319.6" r="1.6"/><circle cx="255.29" cy="323.12" r="1.6"/><circle cx="245.41" cy="328.49" r="1.6"/><circle cx="241.69" cy="323.39" r="1.6"/><circle cx="225.13" cy="321.81" r="1.6"/><circle cx="255.71" cy="321.58" r="1.6"/><circle cx="219.98" cy="327.87" r="1.6"/><circle cx="238.81" cy="329.79" r="1.6"/><circle cx="221.36" cy="313.03" r="1.6"/><circle cx="242.01" cy="312.73" r="1.6"/><circle cx="237.08" cy="328.82" r="1.6"/><circle cx="249.49" cy="327.21" r="1.6"/><circle cx="231.59" cy="321.03" r="1.6"/><circle cx="255.91" cy="326.32" r="1.6"/><circle cx="237.82" cy="316.88" r="1.6"/><circle cx="250.47" cy="323.55" r="1.6"/><circle cx="222.84" cy="313.1" r="1.6"/><circle cx="234.72" cy="328.1" r="1.6"/><circle cx="222.5" cy="321.66" r="1.6"/><circle cx="228.72" cy="330.05" r="1.6"/><circle cx="250.55" cy="323.91" r="1.6"/><circle cx="220.73" cy="319.77" r="1.6"/><circle cx="238.49" cy="330.21" r="1.6"/><circle cx="257.93" cy="314.87" r="1.6"/><circle cx="256.77" cy="324.29" r="1.6"/><circle cx="236.58" cy="313.87" r="1.6"/><circle cx="234.84" cy="317.25" r="1.6"/><circle cx="243.66" cy="328.2" r="1.6"/><circle cx="247.36" cy="329.44" r="1.6"/><circle cx="257.95" cy="316.09" r="1.6"/><circle cx="224.43" cy="322.76" r="1.6"/><circle cx="256.06" cy="314.36" r="1.6"/><circle cx="244.45" cy="313.16" r="1.6"/><circle cx="235.18" cy="318.6" r="1.6"/><circle cx="231.75" cy="327.65" r="1.6"/><circle cx="233.15" cy="317.72" r="1.6"/><circle cx="240.59" cy="318.26" r="1.6"/><circle cx="260.14" cy="322.74" r="1.6"/><circle cx="239.96" cy="327.97" r="1.6"/></g><g fill="#ff0000"><circle cx="243.4" cy="82.6" r="1.6"/><circle cx="229.8" cy="153.1" r="1.6"/><circle cx="251.8" cy="174.4" r="1.6"/><circle cx="249.8" cy="200.3" r="1.6"/><circle cx="224.3" cy="220.3" r="1.6"/><circle cx="254.1" cy="240.7" r="1.6"/><circle cx="244.3" cy="246.9" r="1.6"/><circle cx="232.8" cy="267.5" r="1.6"/><circle cx="239" cy="276.4" r="1.6"/><circle cx="245.6" cy="275.7" r="1.6"/><circle cx="241.6" cy="279" r="1.6"/><circle cx="239.1" cy="277.0" r="1.6"/><circle cx="245.5" cy="276.2" r="1.6"/><circle cx="242.3" cy="280.4" r="1.6"/><circle cx="235.3" cy="286.4" r="1.6"/><circle cx="240.8" cy="286.4" r="1.6"/><circle cx="260.3" cy="292.5" r="1.6"/><circle cx="224.1" cy="291.1" r="1.6"/><circle cx="225.2" cy="291.8" r="1.6"/><circle cx="231.1" cy="291.8" r="1.6"/><circle cx="232.5" cy="290.8" r="1.6"/><circle cx="220.1" cy="293.6" r="1.6"/><circle cx="222.4" cy="293.6" r="1.6"/><circle cx="254.7" cy="293.9" r="1.6"/><circle cx="250.2" cy="297" r="1.6"/><circle cx="226.6" cy="296" r="1.6"/><circle cx="229.7" cy="294.6" r="1.6"/><circle cx="239.5" cy="296.7" r="1.6"/><circle cx="240.2" cy="298.8" r="1.6"/><circle cx="222" cy="299.2" r="1.6"/><circle cx="224.8" cy="299.5" r="1.6"/><circle cx="236.7" cy="299.8" r="1.6"/><circle cx="229" cy="300.6" r="1.6"/><circle cx="225.5" cy="302" r="1.6"/><circle cx="237" cy="303.3" r="1.6"/><circle cx="254.7" cy="301.6" r="1.6"/><circle cx="253.8" cy="304.1" r="1.6"/><circle cx="228" cy="304.1" r="1.6"/><circle cx="231.8" cy="305.1" r="1.6"/><circle cx="219.6" cy="306.5" r="1.6"/><circle cx="230.8" cy="307.7" r="1.6"/><circle cx="231.8" cy="309.1" r="1.6"/><circle cx="255" cy="307.7" r="1.6"/><circle cx="260.9" cy="308.2" r="1.6"/><circle cx="246.5" cy="308.5" r="1.6"/><circle cx="220.5" cy="311" r="1.6"/><circle cx="226.6" cy="312.2" r="1.6"/><circle cx="229.7" cy="311.6" r="1.6"/><circle cx="235" cy="312.2" r="1.6"/><circle cx="238.8" cy="310.7" r="1.6"/><circle cx="242" cy="310.3" r="1.6"/><circle cx="252.2" cy="310.5" r="1.6"/><circle cx="255.7" cy="310.7" r="1.6"/></g>
<g stroke="#c0c0c0" stroke-width="1" fill="none">
<path d="M188.0 26.2 V395.7"/><path d="M188.0 395.6 H292.6" stroke="#a8a8a8"/>
<path d="M188.0 26.20 H191.0"/><path d="M188.0 63.15 H191.0"/><path d="M188.0 100.10 H191.0"/><path d="M188.0 137.05 H191.0"/><path d="M188.0 174.00 H191.0"/><path d="M188.0 210.95 H191.0"/><path d="M188.0 247.90 H191.0"/><path d="M188.0 284.85 H191.0"/><path d="M188.0 321.80 H191.0"/><path d="M188.0 358.75 H191.0"/><path d="M188.0 395.70 H191.0"/>
</g>
<text transform="translate(183.90,29.64) scale(0.950,1)" font-size="9.6" text-anchor="end" fill="#262626" stroke="#262626" stroke-width="0.2">160</text>
<text transform="translate(183.90,66.59) scale(0.950,1)" font-size="9.6" text-anchor="end" fill="#262626" stroke="#262626" stroke-width="0.2">140</text>
<text transform="translate(183.90,103.54) scale(0.950,1)" font-size="9.6" text-anchor="end" fill="#262626" stroke="#262626" stroke-width="0.2">120</text>
<text transform="translate(183.90,140.49) scale(0.950,1)" font-size="9.6" text-anchor="end" fill="#262626" stroke="#262626" stroke-width="0.2">100</text>
<text transform="translate(183.90,177.44) scale(0.950,1)" font-size="9.6" text-anchor="end" fill="#262626" stroke="#262626" stroke-width="0.2">80</text>
<text transform="translate(183.90,214.39) scale(0.950,1)" font-size="9.6" text-anchor="end" fill="#262626" stroke="#262626" stroke-width="0.2">60</text>
<text transform="translate(183.90,251.34) scale(0.950,1)" font-size="9.6" text-anchor="end" fill="#262626" stroke="#262626" stroke-width="0.2">40</text>
<text transform="translate(183.90,288.29) scale(0.950,1)" font-size="9.6" text-anchor="end" fill="#262626" stroke="#262626" stroke-width="0.2">20</text>
<text transform="translate(183.90,325.24) scale(0.950,1)" font-size="9.6" text-anchor="end" fill="#262626" stroke="#262626" stroke-width="0.2">0</text>
<text transform="translate(183.90,362.19) scale(0.950,1)" font-size="9.6" text-anchor="end" fill="#262626" stroke="#262626" stroke-width="0.2">-20</text>
<text transform="translate(183.90,399.14) scale(0.950,1)" font-size="9.6" text-anchor="end" fill="#262626" stroke="#262626" stroke-width="0.2">-40</text>
<text transform="translate(165.40,210.70) rotate(-90)" font-size="11.8" text-anchor="middle" fill="#262626">Overnight change in slope (%)</text>
<text transform="translate(158.30,18.20)" font-size="21.3" text-anchor="start" fill="#000">B</text>
<circle cx="206.1" cy="36.2" r="1.5" fill="#0000ff"/>
<text transform="translate(212.50,40.00)" font-size="10.5" text-anchor="start" fill="#262626">&lt;-5%</text>
<circle cx="206.1" cy="46.9" r="1.5" fill="#000"/>
<text transform="translate(212.50,50.70)" font-size="10.5" text-anchor="start" fill="#262626">no change</text>
<circle cx="206.1" cy="58.3" r="1.5" fill="#ff0000"/>
<text transform="translate(212.50,62.10)" font-size="10.5" text-anchor="start" fill="#262626">&gt;5%</text>
<g fill="#0000ff"><circle cx="393.25" cy="368.9" r="1.6"/><circle cx="365.89" cy="376.31" r="1.6"/><circle cx="399.38" cy="389.08" r="1.6"/><circle cx="387.62" cy="384.29" r="1.6"/><circle cx="388.86" cy="369.67" r="1.6"/><circle cx="368.19" cy="390.73" r="1.6"/><circle cx="381.94" cy="379.83" r="1.6"/><circle cx="376.63" cy="383.54" r="1.6"/><circle cx="379.75" cy="389.9" r="1.6"/><circle cx="391.18" cy="365.58" r="1.6"/><circle cx="404.88" cy="376.03" r="1.6"/><circle cx="394.86" cy="384.62" r="1.6"/><circle cx="382.28" cy="388.99" r="1.6"/><circle cx="405.92" cy="379.83" r="1.6"/><circle cx="398.45" cy="391.03" r="1.6"/><circle cx="380.6" cy="374.15" r="1.6"/><circle cx="399.69" cy="363.87" r="1.6"/><circle cx="404.26" cy="395.22" r="1.6"/><circle cx="406.11" cy="392.49" r="1.6"/><circle cx="377.84" cy="381.69" r="1.6"/><circle cx="369.37" cy="381.4" r="1.6"/><circle cx="383.8" cy="370.07" r="1.6"/><circle cx="388.08" cy="394.69" r="1.6"/><circle cx="402.45" cy="383.41" r="1.6"/><circle cx="390.11" cy="394.97" r="1.6"/><circle cx="387.61" cy="368.44" r="1.6"/><circle cx="402.2" cy="378.53" r="1.6"/><circle cx="368.69" cy="385.11" r="1.6"/><circle cx="395.27" cy="393.69" r="1.6"/><circle cx="385.82" cy="377.4" r="1.6"/><circle cx="374.51" cy="366.4" r="1.6"/><circle cx="382.14" cy="390.06" r="1.6"/><circle cx="375.35" cy="387.31" r="1.6"/><circle cx="377.65" cy="392.45" r="1.6"/><circle cx="371.19" cy="365.74" r="1.6"/><circle cx="384.93" cy="395.12" r="1.6"/><circle cx="399.85" cy="393.63" r="1.6"/><circle cx="371.81" cy="389.39" r="1.6"/><circle cx="369.22" cy="388.98" r="1.6"/><circle cx="398.71" cy="388.44" r="1.6"/><circle cx="390.32" cy="371.14" r="1.6"/><circle cx="388.62" cy="378.37" r="1.6"/><circle cx="367.12" cy="375.92" r="1.6"/><circle cx="370.96" cy="391.69" r="1.6"/><circle cx="372.24" cy="369.71" r="1.6"/><circle cx="367.1" cy="393.47" r="1.6"/><circle cx="373.35" cy="390.49" r="1.6"/><circle cx="380.77" cy="382.73" r="1.6"/><circle cx="387.77" cy="393.08" r="1.6"/><circle cx="392.02" cy="393.47" r="1.6"/><circle cx="393.24" cy="376.03" r="1.6"/><circle cx="387.45" cy="373.59" r="1.6"/><circle cx="402.82" cy="384.2" r="1.6"/><circle cx="373.95" cy="393.59" r="1.6"/><circle cx="391.73" cy="375.99" r="1.6"/><circle cx="379.01" cy="377.45" r="1.6"/><circle cx="368.28" cy="390.72" r="1.6"/><circle cx="367.61" cy="386.24" r="1.6"/><circle cx="392.02" cy="393.29" r="1.6"/><circle cx="385.73" cy="395.17" r="1.6"/><circle cx="384.99" cy="383.6" r="1.6"/><circle cx="406.9" cy="380.75" r="1.6"/><circle cx="368.73" cy="394.08" r="1.6"/><circle cx="376.26" cy="394.91" r="1.6"/><circle cx="397.91" cy="387.4" r="1.6"/><circle cx="391.49" cy="379.48" r="1.6"/><circle cx="405.44" cy="389.82" r="1.6"/><circle cx="375.9" cy="375.36" r="1.6"/><circle cx="370.34" cy="394.86" r="1.6"/><circle cx="377.29" cy="388.76" r="1.6"/><circle cx="394.52" cy="388.26" r="1.6"/><circle cx="386.55" cy="389.58" r="1.6"/><circle cx="404.57" cy="394.11" r="1.6"/><circle cx="393.98" cy="389.34" r="1.6"/><circle cx="392.75" cy="393.02" r="1.6"/><circle cx="385.52" cy="387.42" r="1.6"/><circle cx="381.36" cy="376.54" r="1.6"/><circle cx="383.67" cy="366.06" r="1.6"/><circle cx="380.83" cy="393.94" r="1.6"/><circle cx="390.74" cy="394.36" r="1.6"/><circle cx="367.46" cy="389.47" r="1.6"/><circle cx="391.09" cy="378.16" r="1.6"/><circle cx="395.1" cy="379.93" r="1.6"/><circle cx="394.54" cy="394.99" r="1.6"/><circle cx="398.28" cy="387.47" r="1.6"/><circle cx="369.96" cy="369.04" r="1.6"/><circle cx="367.31" cy="386.81" r="1.6"/><circle cx="365.64" cy="393.0" r="1.6"/><circle cx="370.61" cy="368.71" r="1.6"/><circle cx="381.34" cy="375.48" r="1.6"/><circle cx="387.17" cy="389.64" r="1.6"/><circle cx="398.84" cy="379.21" r="1.6"/><circle cx="382.52" cy="378.54" r="1.6"/><circle cx="367.23" cy="381.33" r="1.6"/><circle cx="390.1" cy="394.91" r="1.6"/><circle cx="395.13" cy="392.44" r="1.6"/><circle cx="367.77" cy="389.58" r="1.6"/><circle cx="375.74" cy="389.41" r="1.6"/><circle cx="380.92" cy="395.37" r="1.6"/><circle cx="374.86" cy="395.23" r="1.6"/><circle cx="401.92" cy="384.29" r="1.6"/><circle cx="381.55" cy="392.79" r="1.6"/><circle cx="386.57" cy="394.61" r="1.6"/><circle cx="405.83" cy="392.41" r="1.6"/><circle cx="367.43" cy="373.41" r="1.6"/><circle cx="394.17" cy="388.12" r="1.6"/><circle cx="380.85" cy="383.22" r="1.6"/><circle cx="385.24" cy="368.41" r="1.6"/><circle cx="402.23" cy="378.78" r="1.6"/><circle cx="389.89" cy="393.94" r="1.6"/><circle cx="393.64" cy="395.33" r="1.6"/><circle cx="402.57" cy="384.42" r="1.6"/><circle cx="381.91" cy="383.42" r="1.6"/><circle cx="399.78" cy="394.98" r="1.6"/><circle cx="365.01" cy="374.76" r="1.6"/><circle cx="402.05" cy="382.15" r="1.6"/><circle cx="375.9" cy="390.72" r="1.6"/><circle cx="397.81" cy="395.37" r="1.6"/><circle cx="370.83" cy="394.14" r="1.6"/><circle cx="376.01" cy="388.71" r="1.6"/><circle cx="390.88" cy="386.26" r="1.6"/><circle cx="374.98" cy="374.64" r="1.6"/><circle cx="392.81" cy="394.06" r="1.6"/><circle cx="401.97" cy="383.24" r="1.6"/><circle cx="402.74" cy="388.05" r="1.6"/><circle cx="369.08" cy="393.83" r="1.6"/><circle cx="369.4" cy="394.08" r="1.6"/><circle cx="385.88" cy="393.99" r="1.6"/><circle cx="390.18" cy="387.99" r="1.6"/><circle cx="379.08" cy="383.64" r="1.6"/><circle cx="365.16" cy="394.51" r="1.6"/><circle cx="393.1" cy="386.78" r="1.6"/><circle cx="387.99" cy="383.41" r="1.6"/><circle cx="391.83" cy="393.3" r="1.6"/><circle cx="375.94" cy="385.73" r="1.6"/><circle cx="390.62" cy="379.65" r="1.6"/><circle cx="365.75" cy="389.82" r="1.6"/><circle cx="405.78" cy="362.54" r="1.6"/><circle cx="380.94" cy="388.93" r="1.6"/><circle cx="393.12" cy="383.71" r="1.6"/><circle cx="372.86" cy="375.15" r="1.6"/><circle cx="397.86" cy="373.18" r="1.6"/><circle cx="367.54" cy="391.13" r="1.6"/><circle cx="395.45" cy="377.05" r="1.6"/><circle cx="407.07" cy="389.46" r="1.6"/><circle cx="390.1" cy="394.48" r="1.6"/><circle cx="387.43" cy="393.65" r="1.6"/><circle cx="400.22" cy="394.44" r="1.6"/><circle cx="390.63" cy="383.2" r="1.6"/><circle cx="373.4" cy="394.48" r="1.6"/><circle cx="374.57" cy="381.81" r="1.6"/><circle cx="369.08" cy="389.31" r="1.6"/><circle cx="370.52" cy="379.71" r="1.6"/><circle cx="391.41" cy="379.53" r="1.6"/><circle cx="402.62" cy="388.57" r="1.6"/><circle cx="365.64" cy="395.31" r="1.6"/><circle cx="399.93" cy="393.79" r="1.6"/><circle cx="374.43" cy="388.65" r="1.6"/><circle cx="388.62" cy="390.55" r="1.6"/><circle cx="388.05" cy="385.94" r="1.6"/><circle cx="377.26" cy="391.93" r="1.6"/><circle cx="373.25" cy="374.38" r="1.6"/><circle cx="375.34" cy="395.03" r="1.6"/><circle cx="366.05" cy="371.36" r="1.6"/><circle cx="376.71" cy="363.73" r="1.6"/><circle cx="383.05" cy="387.75" r="1.6"/><circle cx="381.29" cy="386.3" r="1.6"/><circle cx="372.8" cy="393.16" r="1.6"/><circle cx="400.96" cy="367.08" r="1.6"/><circle cx="399.67" cy="379.18" r="1.6"/><circle cx="397.33" cy="368.96" r="1.6"/><circle cx="379.67" cy="374.8" r="1.6"/><circle cx="369.84" cy="385.67" r="1.6"/><circle cx="380.56" cy="394.98" r="1.6"/><circle cx="376.99" cy="388.47" r="1.6"/><circle cx="386.56" cy="364.43" r="1.6"/><circle cx="377.3" cy="384.6" r="1.6"/><circle cx="398.06" cy="393.73" r="1.6"/></g><g fill="#000000"><circle cx="376.6" cy="195.5" r="1.6"/><circle cx="400.4" cy="195.8" r="1.6"/><circle cx="370.2" cy="213" r="1.6"/><circle cx="371.4" cy="204.5" r="1.6"/><circle cx="378.4" cy="208.7" r="1.6"/><circle cx="380.8" cy="207.6" r="1.6"/><circle cx="384.3" cy="205.2" r="1.6"/><circle cx="397.2" cy="208" r="1.6"/><circle cx="380.3" cy="213.4" r="1.6"/><circle cx="366" cy="218.6" r="1.6"/><circle cx="400.9" cy="217.7" r="1.6"/><circle cx="367.9" cy="226.8" r="1.6"/><circle cx="374.2" cy="228" r="1.6"/><circle cx="385" cy="228.7" r="1.6"/><circle cx="389.5" cy="226.8" r="1.6"/><circle cx="383.1" cy="232.2" r="1.6"/><circle cx="396.2" cy="224.7" r="1.6"/><circle cx="402.6" cy="226.3" r="1.6"/><circle cx="392.5" cy="239.9" r="1.6"/><circle cx="393.7" cy="242" r="1.6"/><circle cx="396.7" cy="238" r="1.6"/><circle cx="403.5" cy="236.9" r="1.6"/><circle cx="381.2" cy="244.4" r="1.6"/><circle cx="389.5" cy="243.9" r="1.6"/><circle cx="401.9" cy="246.2" r="1.6"/><circle cx="403.7" cy="245.3" r="1.6"/><circle cx="367.9" cy="251.4" r="1.6"/><circle cx="372.1" cy="254.9" r="1.6"/><circle cx="400.7" cy="256.1" r="1.6"/><circle cx="393.7" cy="257.5" r="1.6"/><circle cx="392.5" cy="259.6" r="1.6"/><circle cx="390.2" cy="264.5" r="1.6"/><circle cx="391.3" cy="266.2" r="1.6"/><circle cx="394.8" cy="265.5" r="1.6"/><circle cx="397.9" cy="263.8" r="1.6"/><circle cx="400.9" cy="262.2" r="1.6"/><circle cx="398.1" cy="265.5" r="1.6"/><circle cx="374.2" cy="269.7" r="1.6"/><circle cx="373.7" cy="273.2" r="1.6"/><circle cx="372.1" cy="273.9" r="1.6"/><circle cx="401.9" cy="269.7" r="1.6"/><circle cx="394.8" cy="272.5" r="1.6"/><circle cx="366" cy="278.6" r="1.6"/><circle cx="369.1" cy="279.1" r="1.6"/><circle cx="366.2" cy="281.4" r="1.6"/><circle cx="374.9" cy="281.4" r="1.6"/><circle cx="397.2" cy="279.1" r="1.6"/><circle cx="401.9" cy="279.5" r="1.6"/><circle cx="405.4" cy="279.8" r="1.6"/><circle cx="380.3" cy="284.2" r="1.6"/><circle cx="387.8" cy="284.9" r="1.6"/><circle cx="407" cy="284.2" r="1.6"/><circle cx="400.7" cy="286.1" r="1.6"/><circle cx="364.8" cy="287.3" r="1.6"/><circle cx="404.2" cy="288.4" r="1.6"/><circle cx="397.73" cy="310.17" r="1.6"/><circle cx="366.15" cy="350.59" r="1.6"/><circle cx="381.99" cy="299.86" r="1.6"/><circle cx="383.7" cy="300.48" r="1.6"/><circle cx="371.42" cy="298.4" r="1.6"/><circle cx="375.65" cy="334.78" r="1.6"/><circle cx="389.98" cy="356.58" r="1.6"/><circle cx="368.25" cy="352.49" r="1.6"/><circle cx="377.53" cy="357.74" r="1.6"/><circle cx="370.0" cy="323.24" r="1.6"/><circle cx="389.9" cy="306.05" r="1.6"/><circle cx="404.14" cy="337.89" r="1.6"/><circle cx="387.86" cy="314.54" r="1.6"/><circle cx="376.6" cy="324.38" r="1.6"/><circle cx="389.64" cy="336.92" r="1.6"/><circle cx="377.29" cy="323.56" r="1.6"/><circle cx="401.19" cy="351.66" r="1.6"/><circle cx="403.09" cy="358.73" r="1.6"/><circle cx="403.95" cy="325.15" r="1.6"/><circle cx="390.68" cy="360.64" r="1.6"/><circle cx="403.11" cy="296.07" r="1.6"/><circle cx="377.75" cy="290.34" r="1.6"/><circle cx="370.28" cy="329.2" r="1.6"/><circle cx="390.33" cy="334.0" r="1.6"/><circle cx="396.29" cy="332.05" r="1.6"/><circle cx="401.39" cy="344.23" r="1.6"/><circle cx="385.33" cy="335.55" r="1.6"/><circle cx="394.53" cy="318.43" r="1.6"/><circle cx="391.18" cy="357.53" r="1.6"/><circle cx="381.25" cy="355.23" r="1.6"/><circle cx="381.06" cy="334.84" r="1.6"/><circle cx="390.85" cy="298.3" r="1.6"/><circle cx="400.0" cy="317.56" r="1.6"/><circle cx="377.25" cy="335.15" r="1.6"/><circle cx="391.81" cy="318.05" r="1.6"/><circle cx="390.07" cy="306.37" r="1.6"/><circle cx="403.94" cy="322.59" r="1.6"/><circle cx="402.58" cy="323.18" r="1.6"/><circle cx="372.29" cy="325.39" r="1.6"/><circle cx="387.78" cy="313.81" r="1.6"/><circle cx="369.31" cy="302.3" r="1.6"/><circle cx="399.21" cy="336.35" r="1.6"/><circle cx="377.77" cy="317.54" r="1.6"/><circle cx="365.85" cy="329.63" r="1.6"/><circle cx="404.73" cy="309.54" r="1.6"/><circle cx="399.94" cy="325.88" r="1.6"/><circle cx="382.64" cy="324.31" r="1.6"/><circle cx="381.92" cy="307.13" r="1.6"/><circle cx="386.97" cy="353.77" r="1.6"/><circle cx="379.46" cy="345.99" r="1.6"/><circle cx="379.63" cy="284.54" r="1.6"/><circle cx="383.38" cy="300.39" r="1.6"/><circle cx="383.41" cy="347.43" r="1.6"/><circle cx="384.08" cy="299.38" r="1.6"/><circle cx="402.68" cy="353.43" r="1.6"/><circle cx="382.19" cy="324.48" r="1.6"/><circle cx="396.36" cy="317.44" r="1.6"/><circle cx="398.97" cy="354.33" r="1.6"/><circle cx="397.59" cy="322.78" r="1.6"/><circle cx="399.78" cy="307.71" r="1.6"/><circle cx="376.89" cy="358.11" r="1.6"/><circle cx="382.32" cy="354.4" r="1.6"/><circle cx="377.13" cy="360.68" r="1.6"/><circle cx="388.81" cy="344.64" r="1.6"/><circle cx="386.54" cy="341.95" r="1.6"/><circle cx="396.01" cy="316.82" r="1.6"/><circle cx="374.18" cy="350.65" r="1.6"/><circle cx="403.88" cy="340.24" r="1.6"/><circle cx="406.8" cy="348.14" r="1.6"/><circle cx="389.25" cy="312.99" r="1.6"/><circle cx="400.61" cy="360.67" r="1.6"/><circle cx="382.93" cy="327.68" r="1.6"/><circle cx="368.09" cy="360.07" r="1.6"/><circle cx="386.88" cy="343.62" r="1.6"/><circle cx="390.86" cy="316.49" r="1.6"/><circle cx="370.32" cy="336.49" r="1.6"/><circle cx="385.06" cy="335.63" r="1.6"/><circle cx="387.49" cy="354.49" r="1.6"/><circle cx="387.2" cy="357.27" r="1.6"/><circle cx="376.67" cy="330.75" r="1.6"/><circle cx="384.13" cy="318.75" r="1.6"/><circle cx="393.66" cy="346.13" r="1.6"/><circle cx="369.97" cy="317.76" r="1.6"/><circle cx="399.82" cy="330.47" r="1.6"/><circle cx="389.28" cy="359.81" r="1.6"/><circle cx="365.7" cy="358.14" r="1.6"/><circle cx="392.42" cy="281.89" r="1.6"/><circle cx="372.3" cy="359.39" r="1.6"/><circle cx="371.19" cy="332.65" r="1.6"/><circle cx="399.52" cy="354.33" r="1.6"/><circle cx="368.77" cy="356.94" r="1.6"/><circle cx="389.7" cy="326.73" r="1.6"/><circle cx="387.47" cy="289.19" r="1.6"/><circle cx="395.27" cy="331.52" r="1.6"/><circle cx="388.89" cy="354.57" r="1.6"/><circle cx="365.82" cy="353.73" r="1.6"/><circle cx="373.47" cy="345.82" r="1.6"/><circle cx="386.11" cy="329.54" r="1.6"/><circle cx="403.41" cy="313.66" r="1.6"/><circle cx="401.27" cy="285.18" r="1.6"/><circle cx="368.23" cy="319.82" r="1.6"/><circle cx="384.35" cy="297.77" r="1.6"/><circle cx="390.14" cy="344.17" r="1.6"/><circle cx="366.81" cy="331.85" r="1.6"/><circle cx="395.24" cy="355.49" r="1.6"/><circle cx="374.31" cy="317.61" r="1.6"/><circle cx="365.88" cy="332.94" r="1.6"/><circle cx="394.05" cy="308.08" r="1.6"/><circle cx="404.8" cy="344.42" r="1.6"/><circle cx="375.91" cy="284.65" r="1.6"/><circle cx="384.62" cy="318.12" r="1.6"/><circle cx="399.22" cy="349.94" r="1.6"/><circle cx="397.5" cy="329.0" r="1.6"/><circle cx="400.57" cy="361.22" r="1.6"/><circle cx="371.51" cy="309.73" r="1.6"/><circle cx="398.01" cy="284.53" r="1.6"/><circle cx="384.05" cy="330.4" r="1.6"/><circle cx="366.27" cy="293.36" r="1.6"/><circle cx="402.69" cy="338.18" r="1.6"/><circle cx="367.86" cy="297.19" r="1.6"/><circle cx="389.35" cy="315.9" r="1.6"/><circle cx="383.92" cy="348.67" r="1.6"/><circle cx="374.89" cy="324.62" r="1.6"/><circle cx="378.95" cy="333.38" r="1.6"/><circle cx="370.27" cy="338.49" r="1.6"/><circle cx="376.04" cy="283.89" r="1.6"/><circle cx="391.65" cy="308.11" r="1.6"/><circle cx="385.85" cy="310.37" r="1.6"/><circle cx="395.47" cy="341.0" r="1.6"/><circle cx="382.35" cy="346.15" r="1.6"/><circle cx="374.45" cy="320.92" r="1.6"/><circle cx="369.34" cy="358.77" r="1.6"/><circle cx="372.91" cy="355.41" r="1.6"/><circle cx="388.06" cy="330.25" r="1.6"/><circle cx="379.45" cy="313.72" r="1.6"/><circle cx="383.0" cy="330.32" r="1.6"/><circle cx="381.69" cy="346.14" r="1.6"/><circle cx="383.09" cy="302.63" r="1.6"/><circle cx="370.67" cy="346.58" r="1.6"/><circle cx="381.8" cy="349.3" r="1.6"/><circle cx="379.15" cy="343.23" r="1.6"/><circle cx="370.78" cy="325.57" r="1.6"/><circle cx="370.97" cy="350.71" r="1.6"/><circle cx="405.06" cy="347.81" r="1.6"/><circle cx="384.91" cy="324.37" r="1.6"/><circle cx="403.57" cy="355.95" r="1.6"/><circle cx="370.94" cy="325.77" r="1.6"/><circle cx="379.01" cy="359.36" r="1.6"/><circle cx="372.26" cy="349.62" r="1.6"/><circle cx="398.24" cy="313.5" r="1.6"/><circle cx="371.51" cy="311.86" r="1.6"/><circle cx="396.63" cy="301.64" r="1.6"/><circle cx="372.87" cy="292.29" r="1.6"/><circle cx="381.6" cy="337.1" r="1.6"/><circle cx="398.15" cy="313.04" r="1.6"/><circle cx="405.05" cy="348.5" r="1.6"/><circle cx="403.18" cy="321.96" r="1.6"/></g><g fill="#ff0000"><circle cx="373.2" cy="91.5" r="1.6"/><circle cx="371.8" cy="94.9" r="1.6"/><circle cx="385.3" cy="94" r="1.6"/><circle cx="369.6" cy="101.9" r="1.6"/><circle cx="374.6" cy="102.4" r="1.6"/><circle cx="377.4" cy="131.3" r="1.6"/><circle cx="378" cy="132.4" r="1.6"/><circle cx="380.8" cy="142.2" r="1.6"/><circle cx="382.5" cy="143.1" r="1.6"/><circle cx="387.5" cy="141.7" r="1.6"/><circle cx="380.2" cy="145" r="1.6"/><circle cx="381.1" cy="150.1" r="1.6"/><circle cx="366.2" cy="152.3" r="1.6"/><circle cx="370.1" cy="154.6" r="1.6"/><circle cx="379.7" cy="154" r="1.6"/><circle cx="388.1" cy="161.3" r="1.6"/><circle cx="388.6" cy="162.7" r="1.6"/><circle cx="401.5" cy="160.5" r="1.6"/><circle cx="376.6" cy="171.7" r="1.6"/><circle cx="380.5" cy="175.3" r="1.6"/><circle cx="385.8" cy="190.2" r="1.6"/><circle cx="387.8" cy="192.1" r="1.6"/><circle cx="397" cy="191" r="1.6"/></g>
<g stroke="#c0c0c0" stroke-width="1" fill="none">
<path d="M333.7 26 V395.4"/><path d="M333.7 395.4 H438.5" stroke="#a8a8a8"/>
<path d="M333.7 26.02 H336.7"/><path d="M333.7 59.60 H336.7"/><path d="M333.7 93.18 H336.7"/><path d="M333.7 126.76 H336.7"/><path d="M333.7 160.34 H336.7"/><path d="M333.7 193.92 H336.7"/><path d="M333.7 227.50 H336.7"/><path d="M333.7 261.08 H336.7"/><path d="M333.7 294.66 H336.7"/><path d="M333.7 328.24 H336.7"/><path d="M333.7 361.82 H336.7"/><path d="M333.7 395.40 H336.7"/>
</g>
<text transform="translate(330.40,30.36) scale(0.950,1)" font-size="9.6" text-anchor="end" fill="#262626" stroke="#262626" stroke-width="0.2">110</text>
<text transform="translate(330.40,63.94) scale(0.950,1)" font-size="9.6" text-anchor="end" fill="#262626" stroke="#262626" stroke-width="0.2">100</text>
<text transform="translate(330.40,97.52) scale(0.950,1)" font-size="9.6" text-anchor="end" fill="#262626" stroke="#262626" stroke-width="0.2">90</text>
<text transform="translate(330.40,131.10) scale(0.950,1)" font-size="9.6" text-anchor="end" fill="#262626" stroke="#262626" stroke-width="0.2">80</text>
<text transform="translate(330.40,164.68) scale(0.950,1)" font-size="9.6" text-anchor="end" fill="#262626" stroke="#262626" stroke-width="0.2">70</text>
<text transform="translate(330.40,198.26) scale(0.950,1)" font-size="9.6" text-anchor="end" fill="#262626" stroke="#262626" stroke-width="0.2">60</text>
<text transform="translate(330.40,231.84) scale(0.950,1)" font-size="9.6" text-anchor="end" fill="#262626" stroke="#262626" stroke-width="0.2">50</text>
<text transform="translate(330.40,265.42) scale(0.950,1)" font-size="9.6" text-anchor="end" fill="#262626" stroke="#262626" stroke-width="0.2">40</text>
<text transform="translate(330.40,299.00) scale(0.950,1)" font-size="9.6" text-anchor="end" fill="#262626" stroke="#262626" stroke-width="0.2">30</text>
<text transform="translate(330.40,332.58) scale(0.950,1)" font-size="9.6" text-anchor="end" fill="#262626" stroke="#262626" stroke-width="0.2">20</text>
<text transform="translate(330.40,366.16) scale(0.950,1)" font-size="9.6" text-anchor="end" fill="#262626" stroke="#262626" stroke-width="0.2">10</text>
<text transform="translate(330.40,399.74) scale(0.950,1)" font-size="9.6" text-anchor="end" fill="#262626" stroke="#262626" stroke-width="0.2">0</text>
<text transform="translate(310.60,210.40) rotate(-90)" font-size="11.8" text-anchor="middle" fill="#262626">Spike wave index (%)</text>
<text transform="translate(305.00,18.20)" font-size="21.3" text-anchor="start" fill="#000">C</text>
<circle cx="351.9" cy="36.2" r="1.5" fill="#0000ff"/>
<text transform="translate(357.80,40.00)" font-size="10.5" text-anchor="start" fill="#262626">&lt;10%</text>
<circle cx="351.9" cy="46.9" r="1.5" fill="#000"/>
<text transform="translate(357.80,50.70)" font-size="10.5" text-anchor="start" fill="#262626">10 - 60%</text>
<circle cx="351.9" cy="58.3" r="1.5" fill="#ff0000"/>
<text transform="translate(357.80,62.10)" font-size="10.5" text-anchor="start" fill="#262626">&gt;60%</text>
<g fill="#000"><circle cx="555.4" cy="41.3" r="1.7"/><circle cx="551" cy="68" r="1.7"/><circle cx="531.7" cy="76.2" r="1.7"/><circle cx="541.3" cy="85.8" r="1.7"/><circle cx="509.8" cy="93.6" r="1.7"/><circle cx="545.4" cy="100.7" r="1.7"/><circle cx="540.7" cy="103" r="1.7"/><circle cx="541" cy="103.6" r="1.7"/><circle cx="545.5" cy="101.1" r="1.7"/><circle cx="542.5" cy="121.2" r="1.7"/><circle cx="548.2" cy="118.5" r="1.7"/><circle cx="548.2" cy="121.6" r="1.7"/><circle cx="555.3" cy="114.4" r="1.7"/><circle cx="555.3" cy="118.1" r="1.7"/><circle cx="552.7" cy="119.9" r="1.7"/><circle cx="546.1" cy="124.6" r="1.7"/><circle cx="549.2" cy="124.6" r="1.7"/><circle cx="546.1" cy="128.7" r="1.7"/><circle cx="551.2" cy="127.7" r="1.7"/><circle cx="540" cy="128.7" r="1.7"/><circle cx="558.4" cy="128.7" r="1.7"/><circle cx="564.1" cy="125.2" r="1.7"/><circle cx="560.4" cy="131.8" r="1.7"/><circle cx="543.1" cy="131.8" r="1.7"/><circle cx="548.2" cy="132.8" r="1.7"/><circle cx="554.3" cy="133.8" r="1.7"/><circle cx="568.6" cy="132.8" r="1.7"/><circle cx="574.3" cy="129.7" r="1.7"/><circle cx="576.8" cy="129.7" r="1.7"/><circle cx="578.8" cy="131.8" r="1.7"/><circle cx="581.9" cy="132.8" r="1.7"/><circle cx="583.9" cy="130.8" r="1.7"/><circle cx="586" cy="130.2" r="1.7"/><circle cx="540" cy="135.9" r="1.7"/><circle cx="544.1" cy="135.9" r="1.7"/><circle cx="549.8" cy="135.9" r="1.7"/><circle cx="556.3" cy="134.9" r="1.7"/><circle cx="550.2" cy="138.9" r="1.7"/><circle cx="562.5" cy="136.9" r="1.7"/><circle cx="564.5" cy="137.9" r="1.7"/><circle cx="566.6" cy="138.9" r="1.7"/><circle cx="560.4" cy="138.9" r="1.7"/><circle cx="570.7" cy="137.9" r="1.7"/><circle cx="574.7" cy="136.9" r="1.7"/><circle cx="540" cy="141" r="1.7"/><circle cx="552.3" cy="142" r="1.7"/><circle cx="559.4" cy="142.4" r="1.7"/><circle cx="561.5" cy="141" r="1.7"/><circle cx="573.7" cy="141" r="1.7"/><circle cx="549.2" cy="145.1" r="1.7"/><circle cx="554.3" cy="146.1" r="1.7"/><circle cx="578.8" cy="144.7" r="1.7"/><circle cx="564.1" cy="150.6" r="1.7"/><circle cx="576.4" cy="154.9" r="1.7"/><circle cx="540" cy="154.3" r="1.7"/><circle cx="583.9" cy="121.2" r="1.7"/><circle cx="585" cy="116.1" r="1.7"/><circle cx="589.7" cy="115" r="1.7"/><circle cx="592.1" cy="111.3" r="1.7"/><circle cx="594.8" cy="123.2" r="1.7"/><circle cx="595.2" cy="127.3" r="1.7"/><circle cx="594.8" cy="132.8" r="1.7"/><circle cx="594.8" cy="134.9" r="1.7"/><circle cx="589" cy="135.9" r="1.7"/><circle cx="592.1" cy="136.9" r="1.7"/><circle cx="596.2" cy="137.9" r="1.7"/><circle cx="597.2" cy="138.9" r="1.7"/><circle cx="601.3" cy="141" r="1.7"/><circle cx="603.8" cy="143.6" r="1.7"/><circle cx="604.4" cy="126.7" r="1.7"/><circle cx="604.4" cy="133.4" r="1.7"/><circle cx="601.3" cy="132.8" r="1.7"/><circle cx="613.6" cy="136.3" r="1.7"/><circle cx="615.2" cy="137.5" r="1.7"/><circle cx="620.3" cy="132.8" r="1.7"/><circle cx="620.7" cy="128.7" r="1.7"/><circle cx="625.8" cy="127.7" r="1.7"/><circle cx="627.5" cy="120.5" r="1.7"/><circle cx="632" cy="126.1" r="1.7"/><circle cx="631.6" cy="133.4" r="1.7"/><circle cx="630.9" cy="136.9" r="1.7"/><circle cx="619.7" cy="137.9" r="1.7"/><circle cx="621.7" cy="143" r="1.7"/><circle cx="624.4" cy="141" r="1.7"/><circle cx="625.4" cy="140" r="1.7"/><circle cx="629.5" cy="143.6" r="1.7"/><circle cx="636.5" cy="138.3" r="1.7"/><circle cx="637.7" cy="140" r="1.7"/><circle cx="653.4" cy="121" r="1.7"/><circle cx="658.1" cy="127.3" r="1.7"/><circle cx="658.1" cy="129.3" r="1.7"/><circle cx="654" cy="138.9" r="1.7"/><circle cx="659.6" cy="145.3" r="1.7"/><circle cx="506.1" cy="154.9" r="1.7"/><circle cx="520.4" cy="154.1" r="1.7"/><circle cx="521.5" cy="144.1" r="1.7"/><circle cx="511.8" cy="126" r="1.7"/><circle cx="505" cy="124.9" r="1.7"/><circle cx="500" cy="126.5" r="1.7"/><circle cx="494" cy="124.2" r="1.7"/><circle cx="517" cy="122.3" r="1.7"/><circle cx="523" cy="121.5" r="1.7"/><circle cx="526" cy="123" r="1.7"/><circle cx="530" cy="124.5" r="1.7"/><circle cx="527.5" cy="126.5" r="1.7"/><circle cx="533" cy="125.7" r="1.7"/><circle cx="493.41" cy="136.53" r="1.7"/><circle cx="499.41" cy="137.31" r="1.7"/><circle cx="497.37" cy="138.25" r="1.7"/><circle cx="498.01" cy="139.08" r="1.7"/><circle cx="492.93" cy="136.15" r="1.7"/><circle cx="493.2" cy="131.91" r="1.7"/><circle cx="491.47" cy="133.64" r="1.7"/><circle cx="493.78" cy="145.64" r="1.7"/><circle cx="499.39" cy="139.52" r="1.7"/><circle cx="497.63" cy="132.15" r="1.7"/><circle cx="495.76" cy="144.97" r="1.7"/><circle cx="498.97" cy="138.93" r="1.7"/><circle cx="494.69" cy="134.14" r="1.7"/><circle cx="499.51" cy="136.03" r="1.7"/><circle cx="491.96" cy="139.19" r="1.7"/><circle cx="495.58" cy="132.79" r="1.7"/><circle cx="501.78" cy="141.65" r="1.7"/><circle cx="499.82" cy="138.95" r="1.7"/><circle cx="497.49" cy="144.58" r="1.7"/><circle cx="493.42" cy="140.36" r="1.7"/><circle cx="495.31" cy="135.14" r="1.7"/><circle cx="495.29" cy="134.62" r="1.7"/><circle cx="499.57" cy="137.4" r="1.7"/><circle cx="494.12" cy="129.86" r="1.7"/><circle cx="498.07" cy="131.43" r="1.7"/><circle cx="491.69" cy="141.29" r="1.7"/><circle cx="498.51" cy="135.24" r="1.7"/><circle cx="494.36" cy="140.24" r="1.7"/><circle cx="491.97" cy="131.72" r="1.7"/><circle cx="496.16" cy="142.38" r="1.7"/><circle cx="500.5" cy="135.86" r="1.7"/><circle cx="494.41" cy="134.02" r="1.7"/><circle cx="500.04" cy="147.93" r="1.7"/><circle cx="497.49" cy="135.45" r="1.7"/><circle cx="499.12" cy="132.98" r="1.7"/><circle cx="494.87" cy="132.27" r="1.7"/><circle cx="496.5" cy="140.66" r="1.7"/><circle cx="495.28" cy="141.06" r="1.7"/><circle cx="493.2" cy="140.31" r="1.7"/><circle cx="498.0" cy="142.47" r="1.7"/><circle cx="497.2" cy="137.83" r="1.7"/><circle cx="497.36" cy="129.0" r="1.7"/><circle cx="493.72" cy="129.66" r="1.7"/><circle cx="497.51" cy="136.35" r="1.7"/><circle cx="498.51" cy="136.27" r="1.7"/><circle cx="494.55" cy="131.99" r="1.7"/><circle cx="495.17" cy="138.88" r="1.7"/><circle cx="498.17" cy="135.12" r="1.7"/><circle cx="493.75" cy="136.13" r="1.7"/><circle cx="491.95" cy="134.08" r="1.7"/><circle cx="492.76" cy="133.13" r="1.7"/><circle cx="491.98" cy="135.05" r="1.7"/><circle cx="493.4" cy="129.24" r="1.7"/><circle cx="495.27" cy="140.16" r="1.7"/><circle cx="499.43" cy="145.69" r="1.7"/><circle cx="492.94" cy="146.55" r="1.7"/><circle cx="497.37" cy="137.16" r="1.7"/><circle cx="500.43" cy="135.59" r="1.7"/><circle cx="501.15" cy="137.15" r="1.7"/><circle cx="496.84" cy="137.84" r="1.7"/><circle cx="499.72" cy="138.48" r="1.7"/><circle cx="496.45" cy="137.16" r="1.7"/><circle cx="491.56" cy="142.36" r="1.7"/><circle cx="494.93" cy="135.59" r="1.7"/><circle cx="491.88" cy="147.77" r="1.7"/><circle cx="501.19" cy="135.56" r="1.7"/><circle cx="492.12" cy="146.41" r="1.7"/><circle cx="499.12" cy="140.33" r="1.7"/><circle cx="500.36" cy="136.62" r="1.7"/><circle cx="497.49" cy="131.89" r="1.7"/><circle cx="500.82" cy="144.09" r="1.7"/><circle cx="493.05" cy="142.48" r="1.7"/><circle cx="491.55" cy="135.35" r="1.7"/><circle cx="493.35" cy="130.28" r="1.7"/><circle cx="497.72" cy="138.41" r="1.7"/><circle cx="495.89" cy="130.46" r="1.7"/><circle cx="499.84" cy="139.57" r="1.7"/><circle cx="499.57" cy="130.73" r="1.7"/><circle cx="495.08" cy="134.94" r="1.7"/><circle cx="498.08" cy="146.16" r="1.7"/><circle cx="498.64" cy="133.12" r="1.7"/><circle cx="494.47" cy="135.96" r="1.7"/><circle cx="497.78" cy="137.14" r="1.7"/><circle cx="492.14" cy="135.95" r="1.7"/><circle cx="500.06" cy="131.04" r="1.7"/><circle cx="499.95" cy="141.63" r="1.7"/><circle cx="499.46" cy="136.41" r="1.7"/><circle cx="496.45" cy="134.1" r="1.7"/><circle cx="495.59" cy="145.17" r="1.7"/><circle cx="494.77" cy="132.71" r="1.7"/><circle cx="493.84" cy="137.86" r="1.7"/><circle cx="501.42" cy="137.88" r="1.7"/><circle cx="500.28" cy="130.95" r="1.7"/><circle cx="491.87" cy="138.55" r="1.7"/><circle cx="501.83" cy="134.32" r="1.7"/><circle cx="491.84" cy="136.02" r="1.7"/><circle cx="501.62" cy="137.08" r="1.7"/><circle cx="495.66" cy="136.06" r="1.7"/><circle cx="492.03" cy="130.76" r="1.7"/><circle cx="492.63" cy="133.12" r="1.7"/><circle cx="495.31" cy="132.73" r="1.7"/><circle cx="497.93" cy="136.41" r="1.7"/><circle cx="496.46" cy="134.45" r="1.7"/><circle cx="495.47" cy="138.69" r="1.7"/><circle cx="500.13" cy="133.53" r="1.7"/><circle cx="496.18" cy="139.74" r="1.7"/><circle cx="495.8" cy="147.93" r="1.7"/><circle cx="492.76" cy="141.09" r="1.7"/><circle cx="492.11" cy="136.85" r="1.7"/><circle cx="501.15" cy="138.42" r="1.7"/><circle cx="502.34" cy="132.85" r="1.7"/><circle cx="497.17" cy="138.62" r="1.7"/><circle cx="496.48" cy="141.88" r="1.7"/><circle cx="498.52" cy="128.82" r="1.7"/><circle cx="497.84" cy="135.66" r="1.7"/><circle cx="492.01" cy="131.3" r="1.7"/><circle cx="495.72" cy="138.18" r="1.7"/><circle cx="497.54" cy="136.53" r="1.7"/><circle cx="498.82" cy="138.3" r="1.7"/><circle cx="499.94" cy="137.57" r="1.7"/><circle cx="496.31" cy="141.53" r="1.7"/><circle cx="494.5" cy="129.56" r="1.7"/><circle cx="494.55" cy="138.12" r="1.7"/><circle cx="492.28" cy="133.59" r="1.7"/><circle cx="496.14" cy="141.58" r="1.7"/><circle cx="499.25" cy="130.92" r="1.7"/><circle cx="491.42" cy="132.05" r="1.7"/><circle cx="498.4" cy="135.28" r="1.7"/><circle cx="495.42" cy="135.85" r="1.7"/><circle cx="492.79" cy="136.17" r="1.7"/><circle cx="496.73" cy="132.5" r="1.7"/><circle cx="492.54" cy="147.25" r="1.7"/><circle cx="491.32" cy="131.68" r="1.7"/><circle cx="496.19" cy="133.6" r="1.7"/><circle cx="491.8" cy="140.87" r="1.7"/><circle cx="499.29" cy="133.63" r="1.7"/><circle cx="493.97" cy="134.5" r="1.7"/><circle cx="494.69" cy="133.22" r="1.7"/><circle cx="494.51" cy="137.79" r="1.7"/><circle cx="492.58" cy="145.55" r="1.7"/><circle cx="497.51" cy="142.93" r="1.7"/><circle cx="501.27" cy="136.16" r="1.7"/><circle cx="499.09" cy="141.75" r="1.7"/><circle cx="494.71" cy="145.54" r="1.7"/><circle cx="493.94" cy="138.08" r="1.7"/><circle cx="491.74" cy="142.62" r="1.7"/><circle cx="493.46" cy="130.25" r="1.7"/><circle cx="497.98" cy="133.55" r="1.7"/><circle cx="497.76" cy="140.61" r="1.7"/><circle cx="493.1" cy="137.77" r="1.7"/><circle cx="502.3" cy="138.94" r="1.7"/><circle cx="498.84" cy="138.61" r="1.7"/><circle cx="496.6" cy="140.83" r="1.7"/><circle cx="493.13" cy="140.43" r="1.7"/><circle cx="493.18" cy="131.08" r="1.7"/><circle cx="491.78" cy="132.57" r="1.7"/><circle cx="494.95" cy="128.77" r="1.7"/><circle cx="495.75" cy="129.94" r="1.7"/><circle cx="494.38" cy="138.41" r="1.7"/><circle cx="498.67" cy="128.76" r="1.7"/><circle cx="493.27" cy="129.95" r="1.7"/><circle cx="496.48" cy="129.4" r="1.7"/><circle cx="497.61" cy="143.13" r="1.7"/><circle cx="491.5" cy="131.88" r="1.7"/><circle cx="497.92" cy="134.61" r="1.7"/><circle cx="491.45" cy="133.66" r="1.7"/><circle cx="501.53" cy="139.72" r="1.7"/><circle cx="500.1" cy="135.65" r="1.7"/><circle cx="500.79" cy="140.71" r="1.7"/><circle cx="498.0" cy="138.32" r="1.7"/><circle cx="500.32" cy="136.56" r="1.7"/><circle cx="492.45" cy="142.18" r="1.7"/><circle cx="496.04" cy="135.56" r="1.7"/><circle cx="492.8" cy="134.42" r="1.7"/><circle cx="501.5" cy="139.5" r="1.7"/><circle cx="500.39" cy="132.12" r="1.7"/><circle cx="492.07" cy="129.72" r="1.7"/><circle cx="493.19" cy="144.11" r="1.7"/><circle cx="495.19" cy="136.57" r="1.7"/><circle cx="500.26" cy="134.16" r="1.7"/><circle cx="497.14" cy="133.0" r="1.7"/><circle cx="497.24" cy="139.33" r="1.7"/><circle cx="492.27" cy="135.28" r="1.7"/><circle cx="500.17" cy="135.05" r="1.7"/><circle cx="500.49" cy="141.59" r="1.7"/><circle cx="497.93" cy="131.56" r="1.7"/><circle cx="496.08" cy="130.33" r="1.7"/><circle cx="494.56" cy="134.54" r="1.7"/><circle cx="499.22" cy="138.58" r="1.7"/><circle cx="498.38" cy="137.16" r="1.7"/><circle cx="492.53" cy="150.84" r="1.7"/><circle cx="494.98" cy="150.67" r="1.7"/><circle cx="496.66" cy="150.59" r="1.7"/><circle cx="492.82" cy="150.42" r="1.7"/><circle cx="513.37" cy="131.83" r="1.7"/><circle cx="514.6" cy="131.63" r="1.7"/><circle cx="502.1" cy="137.69" r="1.7"/><circle cx="504.19" cy="133.38" r="1.7"/><circle cx="501.98" cy="132.33" r="1.7"/><circle cx="505.5" cy="137.47" r="1.7"/><circle cx="516.77" cy="140.28" r="1.7"/><circle cx="506.07" cy="135.15" r="1.7"/><circle cx="502.59" cy="139.54" r="1.7"/><circle cx="510.28" cy="142.83" r="1.7"/><circle cx="516.79" cy="131.41" r="1.7"/><circle cx="511.2" cy="135.85" r="1.7"/><circle cx="515.38" cy="133.73" r="1.7"/><circle cx="511.13" cy="144.24" r="1.7"/><circle cx="509.42" cy="130.49" r="1.7"/><circle cx="509.94" cy="140.77" r="1.7"/><circle cx="511.06" cy="136.88" r="1.7"/><circle cx="506.46" cy="137.53" r="1.7"/><circle cx="513.97" cy="128.5" r="1.7"/><circle cx="517.3" cy="137.04" r="1.7"/><circle cx="511.34" cy="129.17" r="1.7"/><circle cx="512.38" cy="126.85" r="1.7"/><circle cx="508.41" cy="141.52" r="1.7"/><circle cx="517.12" cy="141.49" r="1.7"/><circle cx="507.34" cy="140.14" r="1.7"/><circle cx="514.98" cy="131.86" r="1.7"/><circle cx="506.47" cy="135.72" r="1.7"/><circle cx="503.72" cy="135.8" r="1.7"/><circle cx="515.79" cy="139.81" r="1.7"/><circle cx="512.81" cy="135.29" r="1.7"/><circle cx="515.97" cy="137.73" r="1.7"/><circle cx="515.73" cy="141.67" r="1.7"/><circle cx="515.61" cy="139.46" r="1.7"/><circle cx="513.12" cy="139.33" r="1.7"/><circle cx="505.96" cy="135.31" r="1.7"/><circle cx="516.03" cy="133.47" r="1.7"/><circle cx="505.54" cy="126.42" r="1.7"/><circle cx="515.42" cy="134.04" r="1.7"/><circle cx="511.42" cy="139.72" r="1.7"/><circle cx="508.27" cy="131.38" r="1.7"/><circle cx="511.77" cy="140.84" r="1.7"/><circle cx="512.48" cy="131.92" r="1.7"/><circle cx="502.82" cy="136.15" r="1.7"/><circle cx="503.4" cy="136.37" r="1.7"/><circle cx="511.81" cy="138.15" r="1.7"/><circle cx="516.2" cy="137.93" r="1.7"/><circle cx="516.13" cy="132.76" r="1.7"/><circle cx="507.59" cy="127.2" r="1.7"/><circle cx="504.01" cy="134.23" r="1.7"/><circle cx="517.32" cy="135.84" r="1.7"/><circle cx="516.25" cy="134.75" r="1.7"/><circle cx="511.02" cy="133.24" r="1.7"/><circle cx="512.73" cy="132.74" r="1.7"/><circle cx="508.45" cy="135.98" r="1.7"/><circle cx="506.81" cy="130.49" r="1.7"/><circle cx="508.79" cy="137.11" r="1.7"/><circle cx="517.08" cy="134.47" r="1.7"/><circle cx="503.91" cy="133.37" r="1.7"/><circle cx="506.41" cy="135.99" r="1.7"/><circle cx="504.83" cy="136.03" r="1.7"/><circle cx="506.07" cy="134.13" r="1.7"/><circle cx="503.93" cy="125.63" r="1.7"/><circle cx="508.36" cy="134.78" r="1.7"/><circle cx="512.7" cy="135.22" r="1.7"/><circle cx="508.86" cy="141.4" r="1.7"/><circle cx="506.42" cy="131.74" r="1.7"/><circle cx="512.24" cy="136.11" r="1.7"/><circle cx="508.01" cy="135.64" r="1.7"/><circle cx="506.66" cy="135.41" r="1.7"/><circle cx="512.45" cy="140.9" r="1.7"/><circle cx="513.74" cy="145.14" r="1.7"/><circle cx="501.79" cy="132.15" r="1.7"/><circle cx="512.12" cy="125.63" r="1.7"/><circle cx="510.73" cy="136.76" r="1.7"/><circle cx="514.83" cy="137.44" r="1.7"/><circle cx="508.43" cy="141.48" r="1.7"/><circle cx="521.32" cy="126.23" r="1.7"/><circle cx="529.03" cy="130.87" r="1.7"/><circle cx="522.01" cy="135.15" r="1.7"/><circle cx="522.67" cy="135.38" r="1.7"/><circle cx="538.81" cy="135.45" r="1.7"/><circle cx="523.06" cy="131.21" r="1.7"/><circle cx="535.76" cy="140.15" r="1.7"/><circle cx="519.9" cy="135.47" r="1.7"/><circle cx="525.76" cy="131.7" r="1.7"/><circle cx="527.2" cy="137.44" r="1.7"/><circle cx="533.88" cy="133.61" r="1.7"/><circle cx="527.49" cy="130.69" r="1.7"/><circle cx="526.78" cy="133.48" r="1.7"/><circle cx="539.25" cy="135.94" r="1.7"/><circle cx="525.96" cy="135.32" r="1.7"/><circle cx="538.25" cy="129.45" r="1.7"/><circle cx="538.69" cy="129.47" r="1.7"/><circle cx="529.02" cy="127.53" r="1.7"/><circle cx="535.82" cy="131.12" r="1.7"/><circle cx="526.45" cy="140.47" r="1.7"/><circle cx="531.09" cy="133.9" r="1.7"/><circle cx="526.77" cy="134.7" r="1.7"/><circle cx="526.78" cy="141.03" r="1.7"/><circle cx="538.89" cy="133.59" r="1.7"/><circle cx="529.15" cy="135.81" r="1.7"/><circle cx="518.21" cy="141.29" r="1.7"/><circle cx="531.47" cy="137.76" r="1.7"/><circle cx="530.19" cy="130.74" r="1.7"/><circle cx="523.5" cy="132.95" r="1.7"/><circle cx="524.24" cy="131.76" r="1.7"/><circle cx="533.3" cy="131.93" r="1.7"/><circle cx="532.03" cy="131.37" r="1.7"/><circle cx="535.81" cy="134.7" r="1.7"/><circle cx="531.65" cy="129.52" r="1.7"/><circle cx="533.51" cy="125.23" r="1.7"/><circle cx="522.32" cy="134.85" r="1.7"/><circle cx="530.89" cy="136.91" r="1.7"/></g>
<line x1="491.3" y1="135.9" x2="658.9" y2="129.2" stroke="#000" stroke-width="1.1"/>
<g stroke="#c8c8c8" stroke-width="1" fill="none">
<path d="M491.3 27.2 V166.7"/><path d="M491.3 166.7 H677.5" stroke="#b4b4b4"/>
<path d="M491.3 27.35 H494.3"/><path d="M491.3 62.20 H494.3"/><path d="M491.3 97.05 H494.3"/><path d="M491.3 131.90 H494.3"/><path d="M491.3 166.75 H494.3"/>
<path d="M491.30 166.7 V163.7"/><path d="M528.55 166.7 V163.7"/><path d="M565.80 166.7 V163.7"/><path d="M603.05 166.7 V163.7"/><path d="M640.30 166.7 V163.7"/><path d="M677.55 166.7 V163.7"/>
</g>
<text transform="translate(487.90,31.09) scale(0.950,1)" font-size="9.6" text-anchor="end" fill="#262626" stroke="#262626" stroke-width="0.2">150</text>
<text transform="translate(487.90,65.94) scale(0.950,1)" font-size="9.6" text-anchor="end" fill="#262626" stroke="#262626" stroke-width="0.2">100</text>
<text transform="translate(487.90,100.79) scale(0.950,1)" font-size="9.6" text-anchor="end" fill="#262626" stroke="#262626" stroke-width="0.2">50</text>
<text transform="translate(487.90,135.64) scale(0.950,1)" font-size="9.6" text-anchor="end" fill="#262626" stroke="#262626" stroke-width="0.2">0</text>
<text transform="translate(487.90,170.49) scale(0.950,1)" font-size="9.6" text-anchor="end" fill="#262626" stroke="#262626" stroke-width="0.2">-50</text>
<text transform="translate(491.30,179.80) scale(0.950,1)" font-size="9.6" text-anchor="middle" fill="#262626" stroke="#262626" stroke-width="0.2">0</text>
<text transform="translate(528.55,179.80) scale(0.950,1)" font-size="9.6" text-anchor="middle" fill="#262626" stroke="#262626" stroke-width="0.2">20</text>
<text transform="translate(565.80,179.80) scale(0.950,1)" font-size="9.6" text-anchor="middle" fill="#262626" stroke="#262626" stroke-width="0.2">40</text>
<text transform="translate(603.05,179.80) scale(0.950,1)" font-size="9.6" text-anchor="middle" fill="#262626" stroke="#262626" stroke-width="0.2">60</text>
<text transform="translate(640.30,179.80) scale(0.950,1)" font-size="9.6" text-anchor="middle" fill="#262626" stroke="#262626" stroke-width="0.2">80</text>
<text transform="translate(677.55,179.80) scale(0.950,1)" font-size="9.6" text-anchor="middle" fill="#262626" stroke="#262626" stroke-width="0.2">100</text>
<text transform="translate(584.00,194.30)" font-size="11.8" text-anchor="middle" fill="#262626">Spike wave index (%)</text>
<text transform="translate(468.00,97.00) rotate(-90)" font-size="11.8" text-anchor="middle" fill="#262626">Overnight change in slope (%)</text>
<text transform="translate(444.60,18.20)" font-size="21.3" text-anchor="start" fill="#000">D</text>
<text transform="translate(675.00,36.90) scale(0.950,1)" font-size="9.6" text-anchor="end" fill="#262626" stroke="#262626" stroke-width="0.2">R=0.17</text>
<text transform="translate(675.00,48.30) scale(0.950,1)" font-size="9.6" text-anchor="end" fill="#262626" stroke="#262626" stroke-width="0.2">p&lt;0.001</text>
<line x1="522.3" y1="386.6" x2="662.6" y2="323.5" stroke="#222" stroke-width="0.9"/>
<g fill="#000"><circle cx="546.6" cy="348.9" r="1.9"/><circle cx="561" cy="351.3" r="1.9"/><circle cx="591.1" cy="344.9" r="1.9"/><circle cx="542.1" cy="372.8" r="1.9"/><circle cx="522" cy="379.7" r="1.9"/><circle cx="525.1" cy="385.2" r="1.9"/><circle cx="529.3" cy="383.6" r="1.9"/><circle cx="524.8" cy="392" r="1.9"/><circle cx="522" cy="393.9" r="1.9"/><circle cx="547.7" cy="393.9" r="1.9"/><circle cx="584.1" cy="393.6" r="1.9"/><circle cx="662.4" cy="317" r="1.9"/><circle cx="659.8" cy="326.8" r="1.9"/></g>
<g stroke="#c8c8c8" stroke-width="1" fill="none">
<path d="M489.8 255.9 V395.2"/><path d="M489.8 395.2 H678.1" stroke="#b4b4b4"/>
<path d="M489.8 255.90 H492.8"/><path d="M489.8 275.79 H492.8"/><path d="M489.8 295.68 H492.8"/><path d="M489.8 315.57 H492.8"/><path d="M489.8 335.46 H492.8"/><path d="M489.8 355.35 H492.8"/><path d="M489.8 375.24 H492.8"/><path d="M489.8 395.13 H492.8"/>
<path d="M489.80 395.2 V392.2"/><path d="M516.70 395.2 V392.2"/><path d="M543.60 395.2 V392.2"/><path d="M570.50 395.2 V392.2"/><path d="M597.40 395.2 V392.2"/><path d="M624.30 395.2 V392.2"/><path d="M651.20 395.2 V392.2"/><path d="M678.10 395.2 V392.2"/>
</g>
<text transform="translate(486.40,259.04) scale(0.950,1)" font-size="9.6" text-anchor="end" fill="#262626" stroke="#262626" stroke-width="0.2">60</text>
<text transform="translate(486.40,278.93) scale(0.950,1)" font-size="9.6" text-anchor="end" fill="#262626" stroke="#262626" stroke-width="0.2">50</text>
<text transform="translate(486.40,298.82) scale(0.950,1)" font-size="9.6" text-anchor="end" fill="#262626" stroke="#262626" stroke-width="0.2">40</text>
<text transform="translate(486.40,318.71) scale(0.950,1)" font-size="9.6" text-anchor="end" fill="#262626" stroke="#262626" stroke-width="0.2">30</text>
<text transform="translate(486.40,338.60) scale(0.950,1)" font-size="9.6" text-anchor="end" fill="#262626" stroke="#262626" stroke-width="0.2">20</text>
<text transform="translate(486.40,358.49) scale(0.950,1)" font-size="9.6" text-anchor="end" fill="#262626" stroke="#262626" stroke-width="0.2">10</text>
<text transform="translate(486.40,378.38) scale(0.950,1)" font-size="9.6" text-anchor="end" fill="#262626" stroke="#262626" stroke-width="0.2">0</text>
<text transform="translate(486.40,398.27) scale(0.950,1)" font-size="9.6" text-anchor="end" fill="#262626" stroke="#262626" stroke-width="0.2">-10</text>
<text transform="translate(489.80,408.40) scale(0.950,1)" font-size="9.6" text-anchor="middle" fill="#262626" stroke="#262626" stroke-width="0.2">-10</text>
<text transform="translate(516.70,408.40) scale(0.950,1)" font-size="9.6" text-anchor="middle" fill="#262626" stroke="#262626" stroke-width="0.2">0</text>
<text transform="translate(543.60,408.40) scale(0.950,1)" font-size="9.6" text-anchor="middle" fill="#262626" stroke="#262626" stroke-width="0.2">10</text>
<text transform="translate(570.50,408.40) scale(0.950,1)" font-size="9.6" text-anchor="middle" fill="#262626" stroke="#262626" stroke-width="0.2">20</text>
<text transform="translate(597.40,408.40) scale(0.950,1)" font-size="9.6" text-anchor="middle" fill="#262626" stroke="#262626" stroke-width="0.2">30</text>
<text transform="translate(624.30,408.40) scale(0.950,1)" font-size="9.6" text-anchor="middle" fill="#262626" stroke="#262626" stroke-width="0.2">40</text>
<text transform="translate(651.20,408.40) scale(0.950,1)" font-size="9.6" text-anchor="middle" fill="#262626" stroke="#262626" stroke-width="0.2">50</text>
<text transform="translate(678.10,408.40) scale(0.950,1)" font-size="9.6" text-anchor="middle" fill="#262626" stroke="#262626" stroke-width="0.2">60</text>
<text transform="translate(583.50,422.30)" font-size="11.8" text-anchor="middle" fill="#262626">Spike wave index (%)</text>
<text transform="translate(469.60,325.60) rotate(-90)" font-size="11.8" text-anchor="middle" fill="#262626">Overnight change in slope (%)</text>
<text transform="translate(444.60,241.40) scale(0.780,1)" font-size="21.3" text-anchor="start" fill="#000">E</text>
<text transform="translate(676.50,265.60) scale(0.950,1)" font-size="9.6" text-anchor="end" fill="#262626" stroke="#262626" stroke-width="0.2">R=0.65</text>
<text transform="translate(676.50,276.60) scale(0.950,1)" font-size="9.6" text-anchor="end" fill="#262626" stroke="#262626" stroke-width="0.2">p=0.02</text>
</svg></body></html>
